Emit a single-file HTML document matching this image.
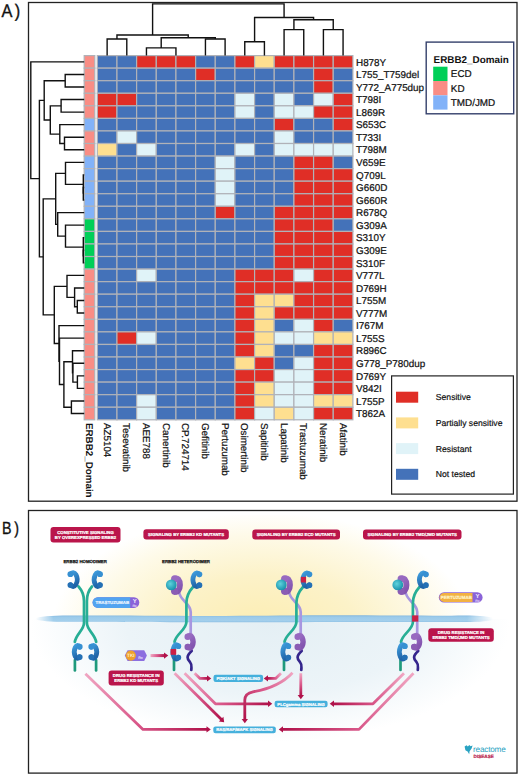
<!DOCTYPE html>
<html><head><meta charset="utf-8"><style>
html,body{margin:0;padding:0;background:#fff;}
svg{display:block;}
text{text-rendering:geometricPrecision;}
</style></head><body>
<svg width="520" height="777" viewBox="0 0 520 777">
<rect width="520" height="777" fill="#fff"/>
<defs><radialGradient id="glow" cx="262" cy="628" r="200" gradientUnits="userSpaceOnUse" gradientTransform="translate(262,628) scale(1.05,0.58) translate(-262,-628)"><stop offset="0" stop-color="#fcedb2"/><stop offset="0.45" stop-color="#fcf2c8"/><stop offset="0.8" stop-color="#fefae8"/><stop offset="1" stop-color="#ffffff"/></radialGradient><radialGradient id="below" cx="270" cy="622" r="200" gradientUnits="userSpaceOnUse" gradientTransform="translate(270,622) scale(1.2,0.6) translate(-270,-622)"><stop offset="0" stop-color="#e4eff4"/><stop offset="0.6" stop-color="#ecf4f8"/><stop offset="1" stop-color="#ffffff"/></radialGradient><linearGradient id="mem" x1="0" y1="0" x2="0" y2="1"><stop offset="0" stop-color="#7fb5de"/><stop offset="0.22" stop-color="#9bcaea"/><stop offset="0.75" stop-color="#a3cfec"/><stop offset="1" stop-color="#8ec0e4"/></linearGradient><linearGradient id="memfade" x1="0" y1="0" x2="1" y2="0"><stop offset="0" stop-color="#fff" stop-opacity="1"/><stop offset="0.05" stop-color="#fff" stop-opacity="0"/><stop offset="0.9" stop-color="#fff" stop-opacity="0"/><stop offset="1" stop-color="#fff" stop-opacity="1"/></linearGradient><radialGradient id="sph" cx="0.4" cy="0.4" r="0.6"><stop offset="0" stop-color="#5fd3dc"/><stop offset="1" stop-color="#1b92ad"/></radialGradient><linearGradient id="mmg" gradientUnits="userSpaceOnUse" x1="30" y1="0" x2="500" y2="0"><stop offset="0" stop-color="#000"/><stop offset="0.012" stop-color="#000"/><stop offset="0.05" stop-color="#fff"/><stop offset="0.93" stop-color="#fff"/><stop offset="0.985" stop-color="#000"/><stop offset="1" stop-color="#000"/></linearGradient><mask id="mm" maskUnits="userSpaceOnUse" x="28" y="600" width="490" height="30"><rect x="28" y="600" width="490" height="30" fill="url(#mmg)"/></mask><linearGradient id="gb" x1="0" y1="0" x2="0.3" y2="1"><stop offset="0" stop-color="#3e9bdb"/><stop offset="1" stop-color="#2064a8"/></linearGradient><linearGradient id="gp" x1="0" y1="0" x2="0.3" y2="1"><stop offset="0" stop-color="#9b6fc4"/><stop offset="1" stop-color="#8455b0"/></linearGradient><linearGradient id="ag1" gradientUnits="userSpaceOnUse" x1="85.4" y1="673.8" x2="207" y2="729.4"><stop offset="0" stop-color="#f0a6c2"/><stop offset="0.5" stop-color="#d9588a"/><stop offset="1" stop-color="#b0124a"/></linearGradient><linearGradient id="ag2" gradientUnits="userSpaceOnUse" x1="174.6" y1="673.2" x2="221.5" y2="719.5"><stop offset="0" stop-color="#f0a6c2"/><stop offset="0.5" stop-color="#d9588a"/><stop offset="1" stop-color="#b0124a"/></linearGradient><linearGradient id="ag3" gradientUnits="userSpaceOnUse" x1="184.6" y1="673.2" x2="268.5" y2="703.8"><stop offset="0" stop-color="#f0a6c2"/><stop offset="0.5" stop-color="#d9588a"/><stop offset="1" stop-color="#b0124a"/></linearGradient><linearGradient id="ag4" gradientUnits="userSpaceOnUse" x1="194.6" y1="673.2" x2="207.5" y2="678.4"><stop offset="0" stop-color="#f0a6c2"/><stop offset="0.5" stop-color="#d9588a"/><stop offset="1" stop-color="#b0124a"/></linearGradient><linearGradient id="ag5" gradientUnits="userSpaceOnUse" x1="150.5" y1="655.6" x2="164.5" y2="655.6"><stop offset="0" stop-color="#f0a6c2"/><stop offset="0.5" stop-color="#d9588a"/><stop offset="1" stop-color="#b0124a"/></linearGradient><linearGradient id="ag6" gradientUnits="userSpaceOnUse" x1="281" y1="673.2" x2="267.5" y2="678.4"><stop offset="0" stop-color="#f0a6c2"/><stop offset="0.5" stop-color="#d9588a"/><stop offset="1" stop-color="#b0124a"/></linearGradient><linearGradient id="ag7" gradientUnits="userSpaceOnUse" x1="292.5" y1="672.8" x2="244.8" y2="719.5"><stop offset="0" stop-color="#f0a6c2"/><stop offset="0.5" stop-color="#d9588a"/><stop offset="1" stop-color="#b0124a"/></linearGradient><linearGradient id="ag8" gradientUnits="userSpaceOnUse" x1="300.8" y1="673.2" x2="300.8" y2="695.5"><stop offset="0" stop-color="#f0a6c2"/><stop offset="0.5" stop-color="#d9588a"/><stop offset="1" stop-color="#b0124a"/></linearGradient><linearGradient id="ag9" gradientUnits="userSpaceOnUse" x1="404" y1="673.2" x2="333.5" y2="703.8"><stop offset="0" stop-color="#f0a6c2"/><stop offset="0.5" stop-color="#d9588a"/><stop offset="1" stop-color="#b0124a"/></linearGradient><linearGradient id="ag10" gradientUnits="userSpaceOnUse" x1="413.5" y1="673.2" x2="282.5" y2="729.4"><stop offset="0" stop-color="#f0a6c2"/><stop offset="0.5" stop-color="#d9588a"/><stop offset="1" stop-color="#b0124a"/></linearGradient></defs>
<rect x="28.5" y="2.5" width="488.5" height="498.7" fill="none" stroke="#222" stroke-width="1.3"/>
<text transform="translate(1.4,17.3) scale(0.9,1)" font-size="18.2" letter-spacing="2.6" font-family='"Liberation Sans", sans-serif' fill="#111" stroke="#111" stroke-width="0.35">A)</text>
<rect x="97.30" y="55.60" width="19.66" height="12.56" fill="#4472B9" stroke="#b0b2b8" stroke-width="1.2"/>
<rect x="116.96" y="55.60" width="19.66" height="12.56" fill="#4472B9" stroke="#b0b2b8" stroke-width="1.2"/>
<rect x="136.62" y="55.60" width="19.66" height="12.56" fill="#E02E26" stroke="#b0b2b8" stroke-width="1.2"/>
<rect x="156.28" y="55.60" width="19.66" height="12.56" fill="#E02E26" stroke="#b0b2b8" stroke-width="1.2"/>
<rect x="175.95" y="55.60" width="19.66" height="12.56" fill="#E02E26" stroke="#b0b2b8" stroke-width="1.2"/>
<rect x="195.61" y="55.60" width="19.66" height="12.56" fill="#4472B9" stroke="#b0b2b8" stroke-width="1.2"/>
<rect x="215.27" y="55.60" width="19.66" height="12.56" fill="#4472B9" stroke="#b0b2b8" stroke-width="1.2"/>
<rect x="234.93" y="55.60" width="19.66" height="12.56" fill="#E02E26" stroke="#b0b2b8" stroke-width="1.2"/>
<rect x="254.59" y="55.60" width="19.66" height="12.56" fill="#FEDF90" stroke="#b0b2b8" stroke-width="1.2"/>
<rect x="274.25" y="55.60" width="19.66" height="12.56" fill="#E02E26" stroke="#b0b2b8" stroke-width="1.2"/>
<rect x="293.92" y="55.60" width="19.66" height="12.56" fill="#E02E26" stroke="#b0b2b8" stroke-width="1.2"/>
<rect x="313.58" y="55.60" width="19.66" height="12.56" fill="#E02E26" stroke="#b0b2b8" stroke-width="1.2"/>
<rect x="333.24" y="55.60" width="19.66" height="12.56" fill="#E02E26" stroke="#b0b2b8" stroke-width="1.2"/>
<rect x="97.30" y="68.16" width="19.66" height="12.56" fill="#4472B9" stroke="#b0b2b8" stroke-width="1.2"/>
<rect x="116.96" y="68.16" width="19.66" height="12.56" fill="#4472B9" stroke="#b0b2b8" stroke-width="1.2"/>
<rect x="136.62" y="68.16" width="19.66" height="12.56" fill="#4472B9" stroke="#b0b2b8" stroke-width="1.2"/>
<rect x="156.28" y="68.16" width="19.66" height="12.56" fill="#4472B9" stroke="#b0b2b8" stroke-width="1.2"/>
<rect x="175.95" y="68.16" width="19.66" height="12.56" fill="#4472B9" stroke="#b0b2b8" stroke-width="1.2"/>
<rect x="195.61" y="68.16" width="19.66" height="12.56" fill="#E02E26" stroke="#b0b2b8" stroke-width="1.2"/>
<rect x="215.27" y="68.16" width="19.66" height="12.56" fill="#4472B9" stroke="#b0b2b8" stroke-width="1.2"/>
<rect x="234.93" y="68.16" width="19.66" height="12.56" fill="#4472B9" stroke="#b0b2b8" stroke-width="1.2"/>
<rect x="254.59" y="68.16" width="19.66" height="12.56" fill="#4472B9" stroke="#b0b2b8" stroke-width="1.2"/>
<rect x="274.25" y="68.16" width="19.66" height="12.56" fill="#4472B9" stroke="#b0b2b8" stroke-width="1.2"/>
<rect x="293.92" y="68.16" width="19.66" height="12.56" fill="#4472B9" stroke="#b0b2b8" stroke-width="1.2"/>
<rect x="313.58" y="68.16" width="19.66" height="12.56" fill="#E02E26" stroke="#b0b2b8" stroke-width="1.2"/>
<rect x="333.24" y="68.16" width="19.66" height="12.56" fill="#4472B9" stroke="#b0b2b8" stroke-width="1.2"/>
<rect x="97.30" y="80.72" width="19.66" height="12.56" fill="#4472B9" stroke="#b0b2b8" stroke-width="1.2"/>
<rect x="116.96" y="80.72" width="19.66" height="12.56" fill="#4472B9" stroke="#b0b2b8" stroke-width="1.2"/>
<rect x="136.62" y="80.72" width="19.66" height="12.56" fill="#4472B9" stroke="#b0b2b8" stroke-width="1.2"/>
<rect x="156.28" y="80.72" width="19.66" height="12.56" fill="#4472B9" stroke="#b0b2b8" stroke-width="1.2"/>
<rect x="175.95" y="80.72" width="19.66" height="12.56" fill="#4472B9" stroke="#b0b2b8" stroke-width="1.2"/>
<rect x="195.61" y="80.72" width="19.66" height="12.56" fill="#4472B9" stroke="#b0b2b8" stroke-width="1.2"/>
<rect x="215.27" y="80.72" width="19.66" height="12.56" fill="#4472B9" stroke="#b0b2b8" stroke-width="1.2"/>
<rect x="234.93" y="80.72" width="19.66" height="12.56" fill="#4472B9" stroke="#b0b2b8" stroke-width="1.2"/>
<rect x="254.59" y="80.72" width="19.66" height="12.56" fill="#4472B9" stroke="#b0b2b8" stroke-width="1.2"/>
<rect x="274.25" y="80.72" width="19.66" height="12.56" fill="#4472B9" stroke="#b0b2b8" stroke-width="1.2"/>
<rect x="293.92" y="80.72" width="19.66" height="12.56" fill="#4472B9" stroke="#b0b2b8" stroke-width="1.2"/>
<rect x="313.58" y="80.72" width="19.66" height="12.56" fill="#E02E26" stroke="#b0b2b8" stroke-width="1.2"/>
<rect x="333.24" y="80.72" width="19.66" height="12.56" fill="#4472B9" stroke="#b0b2b8" stroke-width="1.2"/>
<rect x="97.30" y="93.28" width="19.66" height="12.56" fill="#E02E26" stroke="#b0b2b8" stroke-width="1.2"/>
<rect x="116.96" y="93.28" width="19.66" height="12.56" fill="#E02E26" stroke="#b0b2b8" stroke-width="1.2"/>
<rect x="136.62" y="93.28" width="19.66" height="12.56" fill="#4472B9" stroke="#b0b2b8" stroke-width="1.2"/>
<rect x="156.28" y="93.28" width="19.66" height="12.56" fill="#4472B9" stroke="#b0b2b8" stroke-width="1.2"/>
<rect x="175.95" y="93.28" width="19.66" height="12.56" fill="#4472B9" stroke="#b0b2b8" stroke-width="1.2"/>
<rect x="195.61" y="93.28" width="19.66" height="12.56" fill="#4472B9" stroke="#b0b2b8" stroke-width="1.2"/>
<rect x="215.27" y="93.28" width="19.66" height="12.56" fill="#4472B9" stroke="#b0b2b8" stroke-width="1.2"/>
<rect x="234.93" y="93.28" width="19.66" height="12.56" fill="#E0F3F8" stroke="#b0b2b8" stroke-width="1.2"/>
<rect x="254.59" y="93.28" width="19.66" height="12.56" fill="#4472B9" stroke="#b0b2b8" stroke-width="1.2"/>
<rect x="274.25" y="93.28" width="19.66" height="12.56" fill="#E0F3F8" stroke="#b0b2b8" stroke-width="1.2"/>
<rect x="293.92" y="93.28" width="19.66" height="12.56" fill="#4472B9" stroke="#b0b2b8" stroke-width="1.2"/>
<rect x="313.58" y="93.28" width="19.66" height="12.56" fill="#E0F3F8" stroke="#b0b2b8" stroke-width="1.2"/>
<rect x="333.24" y="93.28" width="19.66" height="12.56" fill="#E02E26" stroke="#b0b2b8" stroke-width="1.2"/>
<rect x="97.30" y="105.83" width="19.66" height="12.56" fill="#E02E26" stroke="#b0b2b8" stroke-width="1.2"/>
<rect x="116.96" y="105.83" width="19.66" height="12.56" fill="#4472B9" stroke="#b0b2b8" stroke-width="1.2"/>
<rect x="136.62" y="105.83" width="19.66" height="12.56" fill="#4472B9" stroke="#b0b2b8" stroke-width="1.2"/>
<rect x="156.28" y="105.83" width="19.66" height="12.56" fill="#4472B9" stroke="#b0b2b8" stroke-width="1.2"/>
<rect x="175.95" y="105.83" width="19.66" height="12.56" fill="#4472B9" stroke="#b0b2b8" stroke-width="1.2"/>
<rect x="195.61" y="105.83" width="19.66" height="12.56" fill="#4472B9" stroke="#b0b2b8" stroke-width="1.2"/>
<rect x="215.27" y="105.83" width="19.66" height="12.56" fill="#4472B9" stroke="#b0b2b8" stroke-width="1.2"/>
<rect x="234.93" y="105.83" width="19.66" height="12.56" fill="#E0F3F8" stroke="#b0b2b8" stroke-width="1.2"/>
<rect x="254.59" y="105.83" width="19.66" height="12.56" fill="#4472B9" stroke="#b0b2b8" stroke-width="1.2"/>
<rect x="274.25" y="105.83" width="19.66" height="12.56" fill="#E0F3F8" stroke="#b0b2b8" stroke-width="1.2"/>
<rect x="293.92" y="105.83" width="19.66" height="12.56" fill="#E0F3F8" stroke="#b0b2b8" stroke-width="1.2"/>
<rect x="313.58" y="105.83" width="19.66" height="12.56" fill="#E02E26" stroke="#b0b2b8" stroke-width="1.2"/>
<rect x="333.24" y="105.83" width="19.66" height="12.56" fill="#E02E26" stroke="#b0b2b8" stroke-width="1.2"/>
<rect x="97.30" y="118.39" width="19.66" height="12.56" fill="#4472B9" stroke="#b0b2b8" stroke-width="1.2"/>
<rect x="116.96" y="118.39" width="19.66" height="12.56" fill="#4472B9" stroke="#b0b2b8" stroke-width="1.2"/>
<rect x="136.62" y="118.39" width="19.66" height="12.56" fill="#4472B9" stroke="#b0b2b8" stroke-width="1.2"/>
<rect x="156.28" y="118.39" width="19.66" height="12.56" fill="#4472B9" stroke="#b0b2b8" stroke-width="1.2"/>
<rect x="175.95" y="118.39" width="19.66" height="12.56" fill="#4472B9" stroke="#b0b2b8" stroke-width="1.2"/>
<rect x="195.61" y="118.39" width="19.66" height="12.56" fill="#4472B9" stroke="#b0b2b8" stroke-width="1.2"/>
<rect x="215.27" y="118.39" width="19.66" height="12.56" fill="#4472B9" stroke="#b0b2b8" stroke-width="1.2"/>
<rect x="234.93" y="118.39" width="19.66" height="12.56" fill="#4472B9" stroke="#b0b2b8" stroke-width="1.2"/>
<rect x="254.59" y="118.39" width="19.66" height="12.56" fill="#4472B9" stroke="#b0b2b8" stroke-width="1.2"/>
<rect x="274.25" y="118.39" width="19.66" height="12.56" fill="#E02E26" stroke="#b0b2b8" stroke-width="1.2"/>
<rect x="293.92" y="118.39" width="19.66" height="12.56" fill="#4472B9" stroke="#b0b2b8" stroke-width="1.2"/>
<rect x="313.58" y="118.39" width="19.66" height="12.56" fill="#4472B9" stroke="#b0b2b8" stroke-width="1.2"/>
<rect x="333.24" y="118.39" width="19.66" height="12.56" fill="#E02E26" stroke="#b0b2b8" stroke-width="1.2"/>
<rect x="97.30" y="130.95" width="19.66" height="12.56" fill="#4472B9" stroke="#b0b2b8" stroke-width="1.2"/>
<rect x="116.96" y="130.95" width="19.66" height="12.56" fill="#E0F3F8" stroke="#b0b2b8" stroke-width="1.2"/>
<rect x="136.62" y="130.95" width="19.66" height="12.56" fill="#4472B9" stroke="#b0b2b8" stroke-width="1.2"/>
<rect x="156.28" y="130.95" width="19.66" height="12.56" fill="#4472B9" stroke="#b0b2b8" stroke-width="1.2"/>
<rect x="175.95" y="130.95" width="19.66" height="12.56" fill="#4472B9" stroke="#b0b2b8" stroke-width="1.2"/>
<rect x="195.61" y="130.95" width="19.66" height="12.56" fill="#4472B9" stroke="#b0b2b8" stroke-width="1.2"/>
<rect x="215.27" y="130.95" width="19.66" height="12.56" fill="#4472B9" stroke="#b0b2b8" stroke-width="1.2"/>
<rect x="234.93" y="130.95" width="19.66" height="12.56" fill="#4472B9" stroke="#b0b2b8" stroke-width="1.2"/>
<rect x="254.59" y="130.95" width="19.66" height="12.56" fill="#4472B9" stroke="#b0b2b8" stroke-width="1.2"/>
<rect x="274.25" y="130.95" width="19.66" height="12.56" fill="#E0F3F8" stroke="#b0b2b8" stroke-width="1.2"/>
<rect x="293.92" y="130.95" width="19.66" height="12.56" fill="#4472B9" stroke="#b0b2b8" stroke-width="1.2"/>
<rect x="313.58" y="130.95" width="19.66" height="12.56" fill="#4472B9" stroke="#b0b2b8" stroke-width="1.2"/>
<rect x="333.24" y="130.95" width="19.66" height="12.56" fill="#4472B9" stroke="#b0b2b8" stroke-width="1.2"/>
<rect x="97.30" y="143.51" width="19.66" height="12.56" fill="#FEDF90" stroke="#b0b2b8" stroke-width="1.2"/>
<rect x="116.96" y="143.51" width="19.66" height="12.56" fill="#4472B9" stroke="#b0b2b8" stroke-width="1.2"/>
<rect x="136.62" y="143.51" width="19.66" height="12.56" fill="#E0F3F8" stroke="#b0b2b8" stroke-width="1.2"/>
<rect x="156.28" y="143.51" width="19.66" height="12.56" fill="#4472B9" stroke="#b0b2b8" stroke-width="1.2"/>
<rect x="175.95" y="143.51" width="19.66" height="12.56" fill="#4472B9" stroke="#b0b2b8" stroke-width="1.2"/>
<rect x="195.61" y="143.51" width="19.66" height="12.56" fill="#4472B9" stroke="#b0b2b8" stroke-width="1.2"/>
<rect x="215.27" y="143.51" width="19.66" height="12.56" fill="#4472B9" stroke="#b0b2b8" stroke-width="1.2"/>
<rect x="234.93" y="143.51" width="19.66" height="12.56" fill="#E0F3F8" stroke="#b0b2b8" stroke-width="1.2"/>
<rect x="254.59" y="143.51" width="19.66" height="12.56" fill="#4472B9" stroke="#b0b2b8" stroke-width="1.2"/>
<rect x="274.25" y="143.51" width="19.66" height="12.56" fill="#E0F3F8" stroke="#b0b2b8" stroke-width="1.2"/>
<rect x="293.92" y="143.51" width="19.66" height="12.56" fill="#E0F3F8" stroke="#b0b2b8" stroke-width="1.2"/>
<rect x="313.58" y="143.51" width="19.66" height="12.56" fill="#E0F3F8" stroke="#b0b2b8" stroke-width="1.2"/>
<rect x="333.24" y="143.51" width="19.66" height="12.56" fill="#E0F3F8" stroke="#b0b2b8" stroke-width="1.2"/>
<rect x="97.30" y="156.07" width="19.66" height="12.56" fill="#4472B9" stroke="#b0b2b8" stroke-width="1.2"/>
<rect x="116.96" y="156.07" width="19.66" height="12.56" fill="#4472B9" stroke="#b0b2b8" stroke-width="1.2"/>
<rect x="136.62" y="156.07" width="19.66" height="12.56" fill="#4472B9" stroke="#b0b2b8" stroke-width="1.2"/>
<rect x="156.28" y="156.07" width="19.66" height="12.56" fill="#4472B9" stroke="#b0b2b8" stroke-width="1.2"/>
<rect x="175.95" y="156.07" width="19.66" height="12.56" fill="#4472B9" stroke="#b0b2b8" stroke-width="1.2"/>
<rect x="195.61" y="156.07" width="19.66" height="12.56" fill="#4472B9" stroke="#b0b2b8" stroke-width="1.2"/>
<rect x="215.27" y="156.07" width="19.66" height="12.56" fill="#E0F3F8" stroke="#b0b2b8" stroke-width="1.2"/>
<rect x="234.93" y="156.07" width="19.66" height="12.56" fill="#4472B9" stroke="#b0b2b8" stroke-width="1.2"/>
<rect x="254.59" y="156.07" width="19.66" height="12.56" fill="#4472B9" stroke="#b0b2b8" stroke-width="1.2"/>
<rect x="274.25" y="156.07" width="19.66" height="12.56" fill="#4472B9" stroke="#b0b2b8" stroke-width="1.2"/>
<rect x="293.92" y="156.07" width="19.66" height="12.56" fill="#E02E26" stroke="#b0b2b8" stroke-width="1.2"/>
<rect x="313.58" y="156.07" width="19.66" height="12.56" fill="#E02E26" stroke="#b0b2b8" stroke-width="1.2"/>
<rect x="333.24" y="156.07" width="19.66" height="12.56" fill="#4472B9" stroke="#b0b2b8" stroke-width="1.2"/>
<rect x="97.30" y="168.63" width="19.66" height="12.56" fill="#4472B9" stroke="#b0b2b8" stroke-width="1.2"/>
<rect x="116.96" y="168.63" width="19.66" height="12.56" fill="#4472B9" stroke="#b0b2b8" stroke-width="1.2"/>
<rect x="136.62" y="168.63" width="19.66" height="12.56" fill="#4472B9" stroke="#b0b2b8" stroke-width="1.2"/>
<rect x="156.28" y="168.63" width="19.66" height="12.56" fill="#4472B9" stroke="#b0b2b8" stroke-width="1.2"/>
<rect x="175.95" y="168.63" width="19.66" height="12.56" fill="#4472B9" stroke="#b0b2b8" stroke-width="1.2"/>
<rect x="195.61" y="168.63" width="19.66" height="12.56" fill="#4472B9" stroke="#b0b2b8" stroke-width="1.2"/>
<rect x="215.27" y="168.63" width="19.66" height="12.56" fill="#E0F3F8" stroke="#b0b2b8" stroke-width="1.2"/>
<rect x="234.93" y="168.63" width="19.66" height="12.56" fill="#4472B9" stroke="#b0b2b8" stroke-width="1.2"/>
<rect x="254.59" y="168.63" width="19.66" height="12.56" fill="#4472B9" stroke="#b0b2b8" stroke-width="1.2"/>
<rect x="274.25" y="168.63" width="19.66" height="12.56" fill="#4472B9" stroke="#b0b2b8" stroke-width="1.2"/>
<rect x="293.92" y="168.63" width="19.66" height="12.56" fill="#E02E26" stroke="#b0b2b8" stroke-width="1.2"/>
<rect x="313.58" y="168.63" width="19.66" height="12.56" fill="#E02E26" stroke="#b0b2b8" stroke-width="1.2"/>
<rect x="333.24" y="168.63" width="19.66" height="12.56" fill="#E02E26" stroke="#b0b2b8" stroke-width="1.2"/>
<rect x="97.30" y="181.19" width="19.66" height="12.56" fill="#4472B9" stroke="#b0b2b8" stroke-width="1.2"/>
<rect x="116.96" y="181.19" width="19.66" height="12.56" fill="#4472B9" stroke="#b0b2b8" stroke-width="1.2"/>
<rect x="136.62" y="181.19" width="19.66" height="12.56" fill="#4472B9" stroke="#b0b2b8" stroke-width="1.2"/>
<rect x="156.28" y="181.19" width="19.66" height="12.56" fill="#4472B9" stroke="#b0b2b8" stroke-width="1.2"/>
<rect x="175.95" y="181.19" width="19.66" height="12.56" fill="#4472B9" stroke="#b0b2b8" stroke-width="1.2"/>
<rect x="195.61" y="181.19" width="19.66" height="12.56" fill="#4472B9" stroke="#b0b2b8" stroke-width="1.2"/>
<rect x="215.27" y="181.19" width="19.66" height="12.56" fill="#E0F3F8" stroke="#b0b2b8" stroke-width="1.2"/>
<rect x="234.93" y="181.19" width="19.66" height="12.56" fill="#4472B9" stroke="#b0b2b8" stroke-width="1.2"/>
<rect x="254.59" y="181.19" width="19.66" height="12.56" fill="#4472B9" stroke="#b0b2b8" stroke-width="1.2"/>
<rect x="274.25" y="181.19" width="19.66" height="12.56" fill="#4472B9" stroke="#b0b2b8" stroke-width="1.2"/>
<rect x="293.92" y="181.19" width="19.66" height="12.56" fill="#E02E26" stroke="#b0b2b8" stroke-width="1.2"/>
<rect x="313.58" y="181.19" width="19.66" height="12.56" fill="#E02E26" stroke="#b0b2b8" stroke-width="1.2"/>
<rect x="333.24" y="181.19" width="19.66" height="12.56" fill="#E02E26" stroke="#b0b2b8" stroke-width="1.2"/>
<rect x="97.30" y="193.74" width="19.66" height="12.56" fill="#4472B9" stroke="#b0b2b8" stroke-width="1.2"/>
<rect x="116.96" y="193.74" width="19.66" height="12.56" fill="#4472B9" stroke="#b0b2b8" stroke-width="1.2"/>
<rect x="136.62" y="193.74" width="19.66" height="12.56" fill="#4472B9" stroke="#b0b2b8" stroke-width="1.2"/>
<rect x="156.28" y="193.74" width="19.66" height="12.56" fill="#4472B9" stroke="#b0b2b8" stroke-width="1.2"/>
<rect x="175.95" y="193.74" width="19.66" height="12.56" fill="#4472B9" stroke="#b0b2b8" stroke-width="1.2"/>
<rect x="195.61" y="193.74" width="19.66" height="12.56" fill="#4472B9" stroke="#b0b2b8" stroke-width="1.2"/>
<rect x="215.27" y="193.74" width="19.66" height="12.56" fill="#E0F3F8" stroke="#b0b2b8" stroke-width="1.2"/>
<rect x="234.93" y="193.74" width="19.66" height="12.56" fill="#4472B9" stroke="#b0b2b8" stroke-width="1.2"/>
<rect x="254.59" y="193.74" width="19.66" height="12.56" fill="#4472B9" stroke="#b0b2b8" stroke-width="1.2"/>
<rect x="274.25" y="193.74" width="19.66" height="12.56" fill="#4472B9" stroke="#b0b2b8" stroke-width="1.2"/>
<rect x="293.92" y="193.74" width="19.66" height="12.56" fill="#E02E26" stroke="#b0b2b8" stroke-width="1.2"/>
<rect x="313.58" y="193.74" width="19.66" height="12.56" fill="#E02E26" stroke="#b0b2b8" stroke-width="1.2"/>
<rect x="333.24" y="193.74" width="19.66" height="12.56" fill="#E02E26" stroke="#b0b2b8" stroke-width="1.2"/>
<rect x="97.30" y="206.30" width="19.66" height="12.56" fill="#4472B9" stroke="#b0b2b8" stroke-width="1.2"/>
<rect x="116.96" y="206.30" width="19.66" height="12.56" fill="#4472B9" stroke="#b0b2b8" stroke-width="1.2"/>
<rect x="136.62" y="206.30" width="19.66" height="12.56" fill="#4472B9" stroke="#b0b2b8" stroke-width="1.2"/>
<rect x="156.28" y="206.30" width="19.66" height="12.56" fill="#4472B9" stroke="#b0b2b8" stroke-width="1.2"/>
<rect x="175.95" y="206.30" width="19.66" height="12.56" fill="#4472B9" stroke="#b0b2b8" stroke-width="1.2"/>
<rect x="195.61" y="206.30" width="19.66" height="12.56" fill="#4472B9" stroke="#b0b2b8" stroke-width="1.2"/>
<rect x="215.27" y="206.30" width="19.66" height="12.56" fill="#E02E26" stroke="#b0b2b8" stroke-width="1.2"/>
<rect x="234.93" y="206.30" width="19.66" height="12.56" fill="#4472B9" stroke="#b0b2b8" stroke-width="1.2"/>
<rect x="254.59" y="206.30" width="19.66" height="12.56" fill="#4472B9" stroke="#b0b2b8" stroke-width="1.2"/>
<rect x="274.25" y="206.30" width="19.66" height="12.56" fill="#E02E26" stroke="#b0b2b8" stroke-width="1.2"/>
<rect x="293.92" y="206.30" width="19.66" height="12.56" fill="#E02E26" stroke="#b0b2b8" stroke-width="1.2"/>
<rect x="313.58" y="206.30" width="19.66" height="12.56" fill="#E02E26" stroke="#b0b2b8" stroke-width="1.2"/>
<rect x="333.24" y="206.30" width="19.66" height="12.56" fill="#E02E26" stroke="#b0b2b8" stroke-width="1.2"/>
<rect x="97.30" y="218.86" width="19.66" height="12.56" fill="#4472B9" stroke="#b0b2b8" stroke-width="1.2"/>
<rect x="116.96" y="218.86" width="19.66" height="12.56" fill="#4472B9" stroke="#b0b2b8" stroke-width="1.2"/>
<rect x="136.62" y="218.86" width="19.66" height="12.56" fill="#4472B9" stroke="#b0b2b8" stroke-width="1.2"/>
<rect x="156.28" y="218.86" width="19.66" height="12.56" fill="#4472B9" stroke="#b0b2b8" stroke-width="1.2"/>
<rect x="175.95" y="218.86" width="19.66" height="12.56" fill="#4472B9" stroke="#b0b2b8" stroke-width="1.2"/>
<rect x="195.61" y="218.86" width="19.66" height="12.56" fill="#4472B9" stroke="#b0b2b8" stroke-width="1.2"/>
<rect x="215.27" y="218.86" width="19.66" height="12.56" fill="#4472B9" stroke="#b0b2b8" stroke-width="1.2"/>
<rect x="234.93" y="218.86" width="19.66" height="12.56" fill="#4472B9" stroke="#b0b2b8" stroke-width="1.2"/>
<rect x="254.59" y="218.86" width="19.66" height="12.56" fill="#4472B9" stroke="#b0b2b8" stroke-width="1.2"/>
<rect x="274.25" y="218.86" width="19.66" height="12.56" fill="#E02E26" stroke="#b0b2b8" stroke-width="1.2"/>
<rect x="293.92" y="218.86" width="19.66" height="12.56" fill="#E02E26" stroke="#b0b2b8" stroke-width="1.2"/>
<rect x="313.58" y="218.86" width="19.66" height="12.56" fill="#E02E26" stroke="#b0b2b8" stroke-width="1.2"/>
<rect x="333.24" y="218.86" width="19.66" height="12.56" fill="#4472B9" stroke="#b0b2b8" stroke-width="1.2"/>
<rect x="97.30" y="231.42" width="19.66" height="12.56" fill="#4472B9" stroke="#b0b2b8" stroke-width="1.2"/>
<rect x="116.96" y="231.42" width="19.66" height="12.56" fill="#4472B9" stroke="#b0b2b8" stroke-width="1.2"/>
<rect x="136.62" y="231.42" width="19.66" height="12.56" fill="#4472B9" stroke="#b0b2b8" stroke-width="1.2"/>
<rect x="156.28" y="231.42" width="19.66" height="12.56" fill="#4472B9" stroke="#b0b2b8" stroke-width="1.2"/>
<rect x="175.95" y="231.42" width="19.66" height="12.56" fill="#4472B9" stroke="#b0b2b8" stroke-width="1.2"/>
<rect x="195.61" y="231.42" width="19.66" height="12.56" fill="#4472B9" stroke="#b0b2b8" stroke-width="1.2"/>
<rect x="215.27" y="231.42" width="19.66" height="12.56" fill="#4472B9" stroke="#b0b2b8" stroke-width="1.2"/>
<rect x="234.93" y="231.42" width="19.66" height="12.56" fill="#4472B9" stroke="#b0b2b8" stroke-width="1.2"/>
<rect x="254.59" y="231.42" width="19.66" height="12.56" fill="#4472B9" stroke="#b0b2b8" stroke-width="1.2"/>
<rect x="274.25" y="231.42" width="19.66" height="12.56" fill="#E02E26" stroke="#b0b2b8" stroke-width="1.2"/>
<rect x="293.92" y="231.42" width="19.66" height="12.56" fill="#E02E26" stroke="#b0b2b8" stroke-width="1.2"/>
<rect x="313.58" y="231.42" width="19.66" height="12.56" fill="#E02E26" stroke="#b0b2b8" stroke-width="1.2"/>
<rect x="333.24" y="231.42" width="19.66" height="12.56" fill="#E02E26" stroke="#b0b2b8" stroke-width="1.2"/>
<rect x="97.30" y="243.98" width="19.66" height="12.56" fill="#4472B9" stroke="#b0b2b8" stroke-width="1.2"/>
<rect x="116.96" y="243.98" width="19.66" height="12.56" fill="#4472B9" stroke="#b0b2b8" stroke-width="1.2"/>
<rect x="136.62" y="243.98" width="19.66" height="12.56" fill="#4472B9" stroke="#b0b2b8" stroke-width="1.2"/>
<rect x="156.28" y="243.98" width="19.66" height="12.56" fill="#4472B9" stroke="#b0b2b8" stroke-width="1.2"/>
<rect x="175.95" y="243.98" width="19.66" height="12.56" fill="#4472B9" stroke="#b0b2b8" stroke-width="1.2"/>
<rect x="195.61" y="243.98" width="19.66" height="12.56" fill="#4472B9" stroke="#b0b2b8" stroke-width="1.2"/>
<rect x="215.27" y="243.98" width="19.66" height="12.56" fill="#4472B9" stroke="#b0b2b8" stroke-width="1.2"/>
<rect x="234.93" y="243.98" width="19.66" height="12.56" fill="#4472B9" stroke="#b0b2b8" stroke-width="1.2"/>
<rect x="254.59" y="243.98" width="19.66" height="12.56" fill="#4472B9" stroke="#b0b2b8" stroke-width="1.2"/>
<rect x="274.25" y="243.98" width="19.66" height="12.56" fill="#E02E26" stroke="#b0b2b8" stroke-width="1.2"/>
<rect x="293.92" y="243.98" width="19.66" height="12.56" fill="#E02E26" stroke="#b0b2b8" stroke-width="1.2"/>
<rect x="313.58" y="243.98" width="19.66" height="12.56" fill="#E02E26" stroke="#b0b2b8" stroke-width="1.2"/>
<rect x="333.24" y="243.98" width="19.66" height="12.56" fill="#E02E26" stroke="#b0b2b8" stroke-width="1.2"/>
<rect x="97.30" y="256.54" width="19.66" height="12.56" fill="#4472B9" stroke="#b0b2b8" stroke-width="1.2"/>
<rect x="116.96" y="256.54" width="19.66" height="12.56" fill="#4472B9" stroke="#b0b2b8" stroke-width="1.2"/>
<rect x="136.62" y="256.54" width="19.66" height="12.56" fill="#4472B9" stroke="#b0b2b8" stroke-width="1.2"/>
<rect x="156.28" y="256.54" width="19.66" height="12.56" fill="#4472B9" stroke="#b0b2b8" stroke-width="1.2"/>
<rect x="175.95" y="256.54" width="19.66" height="12.56" fill="#4472B9" stroke="#b0b2b8" stroke-width="1.2"/>
<rect x="195.61" y="256.54" width="19.66" height="12.56" fill="#4472B9" stroke="#b0b2b8" stroke-width="1.2"/>
<rect x="215.27" y="256.54" width="19.66" height="12.56" fill="#4472B9" stroke="#b0b2b8" stroke-width="1.2"/>
<rect x="234.93" y="256.54" width="19.66" height="12.56" fill="#4472B9" stroke="#b0b2b8" stroke-width="1.2"/>
<rect x="254.59" y="256.54" width="19.66" height="12.56" fill="#4472B9" stroke="#b0b2b8" stroke-width="1.2"/>
<rect x="274.25" y="256.54" width="19.66" height="12.56" fill="#E02E26" stroke="#b0b2b8" stroke-width="1.2"/>
<rect x="293.92" y="256.54" width="19.66" height="12.56" fill="#E02E26" stroke="#b0b2b8" stroke-width="1.2"/>
<rect x="313.58" y="256.54" width="19.66" height="12.56" fill="#E02E26" stroke="#b0b2b8" stroke-width="1.2"/>
<rect x="333.24" y="256.54" width="19.66" height="12.56" fill="#E02E26" stroke="#b0b2b8" stroke-width="1.2"/>
<rect x="97.30" y="269.10" width="19.66" height="12.56" fill="#4472B9" stroke="#b0b2b8" stroke-width="1.2"/>
<rect x="116.96" y="269.10" width="19.66" height="12.56" fill="#4472B9" stroke="#b0b2b8" stroke-width="1.2"/>
<rect x="136.62" y="269.10" width="19.66" height="12.56" fill="#E0F3F8" stroke="#b0b2b8" stroke-width="1.2"/>
<rect x="156.28" y="269.10" width="19.66" height="12.56" fill="#4472B9" stroke="#b0b2b8" stroke-width="1.2"/>
<rect x="175.95" y="269.10" width="19.66" height="12.56" fill="#4472B9" stroke="#b0b2b8" stroke-width="1.2"/>
<rect x="195.61" y="269.10" width="19.66" height="12.56" fill="#4472B9" stroke="#b0b2b8" stroke-width="1.2"/>
<rect x="215.27" y="269.10" width="19.66" height="12.56" fill="#4472B9" stroke="#b0b2b8" stroke-width="1.2"/>
<rect x="234.93" y="269.10" width="19.66" height="12.56" fill="#E02E26" stroke="#b0b2b8" stroke-width="1.2"/>
<rect x="254.59" y="269.10" width="19.66" height="12.56" fill="#E02E26" stroke="#b0b2b8" stroke-width="1.2"/>
<rect x="274.25" y="269.10" width="19.66" height="12.56" fill="#E02E26" stroke="#b0b2b8" stroke-width="1.2"/>
<rect x="293.92" y="269.10" width="19.66" height="12.56" fill="#E0F3F8" stroke="#b0b2b8" stroke-width="1.2"/>
<rect x="313.58" y="269.10" width="19.66" height="12.56" fill="#E02E26" stroke="#b0b2b8" stroke-width="1.2"/>
<rect x="333.24" y="269.10" width="19.66" height="12.56" fill="#E02E26" stroke="#b0b2b8" stroke-width="1.2"/>
<rect x="97.30" y="281.66" width="19.66" height="12.56" fill="#4472B9" stroke="#b0b2b8" stroke-width="1.2"/>
<rect x="116.96" y="281.66" width="19.66" height="12.56" fill="#4472B9" stroke="#b0b2b8" stroke-width="1.2"/>
<rect x="136.62" y="281.66" width="19.66" height="12.56" fill="#4472B9" stroke="#b0b2b8" stroke-width="1.2"/>
<rect x="156.28" y="281.66" width="19.66" height="12.56" fill="#4472B9" stroke="#b0b2b8" stroke-width="1.2"/>
<rect x="175.95" y="281.66" width="19.66" height="12.56" fill="#4472B9" stroke="#b0b2b8" stroke-width="1.2"/>
<rect x="195.61" y="281.66" width="19.66" height="12.56" fill="#4472B9" stroke="#b0b2b8" stroke-width="1.2"/>
<rect x="215.27" y="281.66" width="19.66" height="12.56" fill="#4472B9" stroke="#b0b2b8" stroke-width="1.2"/>
<rect x="234.93" y="281.66" width="19.66" height="12.56" fill="#E02E26" stroke="#b0b2b8" stroke-width="1.2"/>
<rect x="254.59" y="281.66" width="19.66" height="12.56" fill="#E02E26" stroke="#b0b2b8" stroke-width="1.2"/>
<rect x="274.25" y="281.66" width="19.66" height="12.56" fill="#E02E26" stroke="#b0b2b8" stroke-width="1.2"/>
<rect x="293.92" y="281.66" width="19.66" height="12.56" fill="#E02E26" stroke="#b0b2b8" stroke-width="1.2"/>
<rect x="313.58" y="281.66" width="19.66" height="12.56" fill="#E02E26" stroke="#b0b2b8" stroke-width="1.2"/>
<rect x="333.24" y="281.66" width="19.66" height="12.56" fill="#E02E26" stroke="#b0b2b8" stroke-width="1.2"/>
<rect x="97.30" y="294.21" width="19.66" height="12.56" fill="#4472B9" stroke="#b0b2b8" stroke-width="1.2"/>
<rect x="116.96" y="294.21" width="19.66" height="12.56" fill="#4472B9" stroke="#b0b2b8" stroke-width="1.2"/>
<rect x="136.62" y="294.21" width="19.66" height="12.56" fill="#4472B9" stroke="#b0b2b8" stroke-width="1.2"/>
<rect x="156.28" y="294.21" width="19.66" height="12.56" fill="#4472B9" stroke="#b0b2b8" stroke-width="1.2"/>
<rect x="175.95" y="294.21" width="19.66" height="12.56" fill="#4472B9" stroke="#b0b2b8" stroke-width="1.2"/>
<rect x="195.61" y="294.21" width="19.66" height="12.56" fill="#4472B9" stroke="#b0b2b8" stroke-width="1.2"/>
<rect x="215.27" y="294.21" width="19.66" height="12.56" fill="#4472B9" stroke="#b0b2b8" stroke-width="1.2"/>
<rect x="234.93" y="294.21" width="19.66" height="12.56" fill="#E02E26" stroke="#b0b2b8" stroke-width="1.2"/>
<rect x="254.59" y="294.21" width="19.66" height="12.56" fill="#FEDF90" stroke="#b0b2b8" stroke-width="1.2"/>
<rect x="274.25" y="294.21" width="19.66" height="12.56" fill="#FEDF90" stroke="#b0b2b8" stroke-width="1.2"/>
<rect x="293.92" y="294.21" width="19.66" height="12.56" fill="#E02E26" stroke="#b0b2b8" stroke-width="1.2"/>
<rect x="313.58" y="294.21" width="19.66" height="12.56" fill="#E02E26" stroke="#b0b2b8" stroke-width="1.2"/>
<rect x="333.24" y="294.21" width="19.66" height="12.56" fill="#E02E26" stroke="#b0b2b8" stroke-width="1.2"/>
<rect x="97.30" y="306.77" width="19.66" height="12.56" fill="#4472B9" stroke="#b0b2b8" stroke-width="1.2"/>
<rect x="116.96" y="306.77" width="19.66" height="12.56" fill="#4472B9" stroke="#b0b2b8" stroke-width="1.2"/>
<rect x="136.62" y="306.77" width="19.66" height="12.56" fill="#4472B9" stroke="#b0b2b8" stroke-width="1.2"/>
<rect x="156.28" y="306.77" width="19.66" height="12.56" fill="#4472B9" stroke="#b0b2b8" stroke-width="1.2"/>
<rect x="175.95" y="306.77" width="19.66" height="12.56" fill="#4472B9" stroke="#b0b2b8" stroke-width="1.2"/>
<rect x="195.61" y="306.77" width="19.66" height="12.56" fill="#4472B9" stroke="#b0b2b8" stroke-width="1.2"/>
<rect x="215.27" y="306.77" width="19.66" height="12.56" fill="#4472B9" stroke="#b0b2b8" stroke-width="1.2"/>
<rect x="234.93" y="306.77" width="19.66" height="12.56" fill="#E02E26" stroke="#b0b2b8" stroke-width="1.2"/>
<rect x="254.59" y="306.77" width="19.66" height="12.56" fill="#FEDF90" stroke="#b0b2b8" stroke-width="1.2"/>
<rect x="274.25" y="306.77" width="19.66" height="12.56" fill="#E02E26" stroke="#b0b2b8" stroke-width="1.2"/>
<rect x="293.92" y="306.77" width="19.66" height="12.56" fill="#E02E26" stroke="#b0b2b8" stroke-width="1.2"/>
<rect x="313.58" y="306.77" width="19.66" height="12.56" fill="#E02E26" stroke="#b0b2b8" stroke-width="1.2"/>
<rect x="333.24" y="306.77" width="19.66" height="12.56" fill="#E02E26" stroke="#b0b2b8" stroke-width="1.2"/>
<rect x="97.30" y="319.33" width="19.66" height="12.56" fill="#4472B9" stroke="#b0b2b8" stroke-width="1.2"/>
<rect x="116.96" y="319.33" width="19.66" height="12.56" fill="#4472B9" stroke="#b0b2b8" stroke-width="1.2"/>
<rect x="136.62" y="319.33" width="19.66" height="12.56" fill="#4472B9" stroke="#b0b2b8" stroke-width="1.2"/>
<rect x="156.28" y="319.33" width="19.66" height="12.56" fill="#4472B9" stroke="#b0b2b8" stroke-width="1.2"/>
<rect x="175.95" y="319.33" width="19.66" height="12.56" fill="#4472B9" stroke="#b0b2b8" stroke-width="1.2"/>
<rect x="195.61" y="319.33" width="19.66" height="12.56" fill="#4472B9" stroke="#b0b2b8" stroke-width="1.2"/>
<rect x="215.27" y="319.33" width="19.66" height="12.56" fill="#4472B9" stroke="#b0b2b8" stroke-width="1.2"/>
<rect x="234.93" y="319.33" width="19.66" height="12.56" fill="#E02E26" stroke="#b0b2b8" stroke-width="1.2"/>
<rect x="254.59" y="319.33" width="19.66" height="12.56" fill="#FEDF90" stroke="#b0b2b8" stroke-width="1.2"/>
<rect x="274.25" y="319.33" width="19.66" height="12.56" fill="#4472B9" stroke="#b0b2b8" stroke-width="1.2"/>
<rect x="293.92" y="319.33" width="19.66" height="12.56" fill="#E0F3F8" stroke="#b0b2b8" stroke-width="1.2"/>
<rect x="313.58" y="319.33" width="19.66" height="12.56" fill="#E02E26" stroke="#b0b2b8" stroke-width="1.2"/>
<rect x="333.24" y="319.33" width="19.66" height="12.56" fill="#4472B9" stroke="#b0b2b8" stroke-width="1.2"/>
<rect x="97.30" y="331.89" width="19.66" height="12.56" fill="#4472B9" stroke="#b0b2b8" stroke-width="1.2"/>
<rect x="116.96" y="331.89" width="19.66" height="12.56" fill="#E02E26" stroke="#b0b2b8" stroke-width="1.2"/>
<rect x="136.62" y="331.89" width="19.66" height="12.56" fill="#E0F3F8" stroke="#b0b2b8" stroke-width="1.2"/>
<rect x="156.28" y="331.89" width="19.66" height="12.56" fill="#4472B9" stroke="#b0b2b8" stroke-width="1.2"/>
<rect x="175.95" y="331.89" width="19.66" height="12.56" fill="#4472B9" stroke="#b0b2b8" stroke-width="1.2"/>
<rect x="195.61" y="331.89" width="19.66" height="12.56" fill="#4472B9" stroke="#b0b2b8" stroke-width="1.2"/>
<rect x="215.27" y="331.89" width="19.66" height="12.56" fill="#4472B9" stroke="#b0b2b8" stroke-width="1.2"/>
<rect x="234.93" y="331.89" width="19.66" height="12.56" fill="#E02E26" stroke="#b0b2b8" stroke-width="1.2"/>
<rect x="254.59" y="331.89" width="19.66" height="12.56" fill="#FEDF90" stroke="#b0b2b8" stroke-width="1.2"/>
<rect x="274.25" y="331.89" width="19.66" height="12.56" fill="#E0F3F8" stroke="#b0b2b8" stroke-width="1.2"/>
<rect x="293.92" y="331.89" width="19.66" height="12.56" fill="#E0F3F8" stroke="#b0b2b8" stroke-width="1.2"/>
<rect x="313.58" y="331.89" width="19.66" height="12.56" fill="#FEDF90" stroke="#b0b2b8" stroke-width="1.2"/>
<rect x="333.24" y="331.89" width="19.66" height="12.56" fill="#FEDF90" stroke="#b0b2b8" stroke-width="1.2"/>
<rect x="97.30" y="344.45" width="19.66" height="12.56" fill="#4472B9" stroke="#b0b2b8" stroke-width="1.2"/>
<rect x="116.96" y="344.45" width="19.66" height="12.56" fill="#4472B9" stroke="#b0b2b8" stroke-width="1.2"/>
<rect x="136.62" y="344.45" width="19.66" height="12.56" fill="#4472B9" stroke="#b0b2b8" stroke-width="1.2"/>
<rect x="156.28" y="344.45" width="19.66" height="12.56" fill="#4472B9" stroke="#b0b2b8" stroke-width="1.2"/>
<rect x="175.95" y="344.45" width="19.66" height="12.56" fill="#4472B9" stroke="#b0b2b8" stroke-width="1.2"/>
<rect x="195.61" y="344.45" width="19.66" height="12.56" fill="#4472B9" stroke="#b0b2b8" stroke-width="1.2"/>
<rect x="215.27" y="344.45" width="19.66" height="12.56" fill="#4472B9" stroke="#b0b2b8" stroke-width="1.2"/>
<rect x="234.93" y="344.45" width="19.66" height="12.56" fill="#E02E26" stroke="#b0b2b8" stroke-width="1.2"/>
<rect x="254.59" y="344.45" width="19.66" height="12.56" fill="#FEDF90" stroke="#b0b2b8" stroke-width="1.2"/>
<rect x="274.25" y="344.45" width="19.66" height="12.56" fill="#4472B9" stroke="#b0b2b8" stroke-width="1.2"/>
<rect x="293.92" y="344.45" width="19.66" height="12.56" fill="#4472B9" stroke="#b0b2b8" stroke-width="1.2"/>
<rect x="313.58" y="344.45" width="19.66" height="12.56" fill="#E02E26" stroke="#b0b2b8" stroke-width="1.2"/>
<rect x="333.24" y="344.45" width="19.66" height="12.56" fill="#E02E26" stroke="#b0b2b8" stroke-width="1.2"/>
<rect x="97.30" y="357.01" width="19.66" height="12.56" fill="#4472B9" stroke="#b0b2b8" stroke-width="1.2"/>
<rect x="116.96" y="357.01" width="19.66" height="12.56" fill="#4472B9" stroke="#b0b2b8" stroke-width="1.2"/>
<rect x="136.62" y="357.01" width="19.66" height="12.56" fill="#4472B9" stroke="#b0b2b8" stroke-width="1.2"/>
<rect x="156.28" y="357.01" width="19.66" height="12.56" fill="#4472B9" stroke="#b0b2b8" stroke-width="1.2"/>
<rect x="175.95" y="357.01" width="19.66" height="12.56" fill="#4472B9" stroke="#b0b2b8" stroke-width="1.2"/>
<rect x="195.61" y="357.01" width="19.66" height="12.56" fill="#4472B9" stroke="#b0b2b8" stroke-width="1.2"/>
<rect x="215.27" y="357.01" width="19.66" height="12.56" fill="#4472B9" stroke="#b0b2b8" stroke-width="1.2"/>
<rect x="234.93" y="357.01" width="19.66" height="12.56" fill="#FEDF90" stroke="#b0b2b8" stroke-width="1.2"/>
<rect x="254.59" y="357.01" width="19.66" height="12.56" fill="#E02E26" stroke="#b0b2b8" stroke-width="1.2"/>
<rect x="274.25" y="357.01" width="19.66" height="12.56" fill="#4472B9" stroke="#b0b2b8" stroke-width="1.2"/>
<rect x="293.92" y="357.01" width="19.66" height="12.56" fill="#E0F3F8" stroke="#b0b2b8" stroke-width="1.2"/>
<rect x="313.58" y="357.01" width="19.66" height="12.56" fill="#E02E26" stroke="#b0b2b8" stroke-width="1.2"/>
<rect x="333.24" y="357.01" width="19.66" height="12.56" fill="#E02E26" stroke="#b0b2b8" stroke-width="1.2"/>
<rect x="97.30" y="369.57" width="19.66" height="12.56" fill="#4472B9" stroke="#b0b2b8" stroke-width="1.2"/>
<rect x="116.96" y="369.57" width="19.66" height="12.56" fill="#4472B9" stroke="#b0b2b8" stroke-width="1.2"/>
<rect x="136.62" y="369.57" width="19.66" height="12.56" fill="#4472B9" stroke="#b0b2b8" stroke-width="1.2"/>
<rect x="156.28" y="369.57" width="19.66" height="12.56" fill="#4472B9" stroke="#b0b2b8" stroke-width="1.2"/>
<rect x="175.95" y="369.57" width="19.66" height="12.56" fill="#4472B9" stroke="#b0b2b8" stroke-width="1.2"/>
<rect x="195.61" y="369.57" width="19.66" height="12.56" fill="#4472B9" stroke="#b0b2b8" stroke-width="1.2"/>
<rect x="215.27" y="369.57" width="19.66" height="12.56" fill="#4472B9" stroke="#b0b2b8" stroke-width="1.2"/>
<rect x="234.93" y="369.57" width="19.66" height="12.56" fill="#E02E26" stroke="#b0b2b8" stroke-width="1.2"/>
<rect x="254.59" y="369.57" width="19.66" height="12.56" fill="#E02E26" stroke="#b0b2b8" stroke-width="1.2"/>
<rect x="274.25" y="369.57" width="19.66" height="12.56" fill="#E0F3F8" stroke="#b0b2b8" stroke-width="1.2"/>
<rect x="293.92" y="369.57" width="19.66" height="12.56" fill="#E0F3F8" stroke="#b0b2b8" stroke-width="1.2"/>
<rect x="313.58" y="369.57" width="19.66" height="12.56" fill="#E02E26" stroke="#b0b2b8" stroke-width="1.2"/>
<rect x="333.24" y="369.57" width="19.66" height="12.56" fill="#E02E26" stroke="#b0b2b8" stroke-width="1.2"/>
<rect x="97.30" y="382.12" width="19.66" height="12.56" fill="#4472B9" stroke="#b0b2b8" stroke-width="1.2"/>
<rect x="116.96" y="382.12" width="19.66" height="12.56" fill="#4472B9" stroke="#b0b2b8" stroke-width="1.2"/>
<rect x="136.62" y="382.12" width="19.66" height="12.56" fill="#4472B9" stroke="#b0b2b8" stroke-width="1.2"/>
<rect x="156.28" y="382.12" width="19.66" height="12.56" fill="#4472B9" stroke="#b0b2b8" stroke-width="1.2"/>
<rect x="175.95" y="382.12" width="19.66" height="12.56" fill="#4472B9" stroke="#b0b2b8" stroke-width="1.2"/>
<rect x="195.61" y="382.12" width="19.66" height="12.56" fill="#4472B9" stroke="#b0b2b8" stroke-width="1.2"/>
<rect x="215.27" y="382.12" width="19.66" height="12.56" fill="#4472B9" stroke="#b0b2b8" stroke-width="1.2"/>
<rect x="234.93" y="382.12" width="19.66" height="12.56" fill="#E02E26" stroke="#b0b2b8" stroke-width="1.2"/>
<rect x="254.59" y="382.12" width="19.66" height="12.56" fill="#FEDF90" stroke="#b0b2b8" stroke-width="1.2"/>
<rect x="274.25" y="382.12" width="19.66" height="12.56" fill="#E0F3F8" stroke="#b0b2b8" stroke-width="1.2"/>
<rect x="293.92" y="382.12" width="19.66" height="12.56" fill="#E0F3F8" stroke="#b0b2b8" stroke-width="1.2"/>
<rect x="313.58" y="382.12" width="19.66" height="12.56" fill="#E02E26" stroke="#b0b2b8" stroke-width="1.2"/>
<rect x="333.24" y="382.12" width="19.66" height="12.56" fill="#E02E26" stroke="#b0b2b8" stroke-width="1.2"/>
<rect x="97.30" y="394.68" width="19.66" height="12.56" fill="#4472B9" stroke="#b0b2b8" stroke-width="1.2"/>
<rect x="116.96" y="394.68" width="19.66" height="12.56" fill="#4472B9" stroke="#b0b2b8" stroke-width="1.2"/>
<rect x="136.62" y="394.68" width="19.66" height="12.56" fill="#E0F3F8" stroke="#b0b2b8" stroke-width="1.2"/>
<rect x="156.28" y="394.68" width="19.66" height="12.56" fill="#4472B9" stroke="#b0b2b8" stroke-width="1.2"/>
<rect x="175.95" y="394.68" width="19.66" height="12.56" fill="#4472B9" stroke="#b0b2b8" stroke-width="1.2"/>
<rect x="195.61" y="394.68" width="19.66" height="12.56" fill="#4472B9" stroke="#b0b2b8" stroke-width="1.2"/>
<rect x="215.27" y="394.68" width="19.66" height="12.56" fill="#4472B9" stroke="#b0b2b8" stroke-width="1.2"/>
<rect x="234.93" y="394.68" width="19.66" height="12.56" fill="#E02E26" stroke="#b0b2b8" stroke-width="1.2"/>
<rect x="254.59" y="394.68" width="19.66" height="12.56" fill="#FEDF90" stroke="#b0b2b8" stroke-width="1.2"/>
<rect x="274.25" y="394.68" width="19.66" height="12.56" fill="#E0F3F8" stroke="#b0b2b8" stroke-width="1.2"/>
<rect x="293.92" y="394.68" width="19.66" height="12.56" fill="#E0F3F8" stroke="#b0b2b8" stroke-width="1.2"/>
<rect x="313.58" y="394.68" width="19.66" height="12.56" fill="#FEDF90" stroke="#b0b2b8" stroke-width="1.2"/>
<rect x="333.24" y="394.68" width="19.66" height="12.56" fill="#FEDF90" stroke="#b0b2b8" stroke-width="1.2"/>
<rect x="97.30" y="407.24" width="19.66" height="12.56" fill="#4472B9" stroke="#b0b2b8" stroke-width="1.2"/>
<rect x="116.96" y="407.24" width="19.66" height="12.56" fill="#4472B9" stroke="#b0b2b8" stroke-width="1.2"/>
<rect x="136.62" y="407.24" width="19.66" height="12.56" fill="#E0F3F8" stroke="#b0b2b8" stroke-width="1.2"/>
<rect x="156.28" y="407.24" width="19.66" height="12.56" fill="#4472B9" stroke="#b0b2b8" stroke-width="1.2"/>
<rect x="175.95" y="407.24" width="19.66" height="12.56" fill="#4472B9" stroke="#b0b2b8" stroke-width="1.2"/>
<rect x="195.61" y="407.24" width="19.66" height="12.56" fill="#4472B9" stroke="#b0b2b8" stroke-width="1.2"/>
<rect x="215.27" y="407.24" width="19.66" height="12.56" fill="#4472B9" stroke="#b0b2b8" stroke-width="1.2"/>
<rect x="234.93" y="407.24" width="19.66" height="12.56" fill="#E02E26" stroke="#b0b2b8" stroke-width="1.2"/>
<rect x="254.59" y="407.24" width="19.66" height="12.56" fill="#E0F3F8" stroke="#b0b2b8" stroke-width="1.2"/>
<rect x="274.25" y="407.24" width="19.66" height="12.56" fill="#FEDF90" stroke="#b0b2b8" stroke-width="1.2"/>
<rect x="293.92" y="407.24" width="19.66" height="12.56" fill="#E0F3F8" stroke="#b0b2b8" stroke-width="1.2"/>
<rect x="313.58" y="407.24" width="19.66" height="12.56" fill="#E02E26" stroke="#b0b2b8" stroke-width="1.2"/>
<rect x="333.24" y="407.24" width="19.66" height="12.56" fill="#E02E26" stroke="#b0b2b8" stroke-width="1.2"/>
<rect x="84.2" y="55.60" width="10.60" height="12.56" fill="#F98D85" stroke="#b0b2b8" stroke-width="1.2"/>
<rect x="84.2" y="68.16" width="10.60" height="12.56" fill="#F98D85" stroke="#b0b2b8" stroke-width="1.2"/>
<rect x="84.2" y="80.72" width="10.60" height="12.56" fill="#F98D85" stroke="#b0b2b8" stroke-width="1.2"/>
<rect x="84.2" y="93.28" width="10.60" height="12.56" fill="#F98D85" stroke="#b0b2b8" stroke-width="1.2"/>
<rect x="84.2" y="105.83" width="10.60" height="12.56" fill="#F98D85" stroke="#b0b2b8" stroke-width="1.2"/>
<rect x="84.2" y="118.39" width="10.60" height="12.56" fill="#82B2F8" stroke="#b0b2b8" stroke-width="1.2"/>
<rect x="84.2" y="130.95" width="10.60" height="12.56" fill="#F98D85" stroke="#b0b2b8" stroke-width="1.2"/>
<rect x="84.2" y="143.51" width="10.60" height="12.56" fill="#F98D85" stroke="#b0b2b8" stroke-width="1.2"/>
<rect x="84.2" y="156.07" width="10.60" height="12.56" fill="#82B2F8" stroke="#b0b2b8" stroke-width="1.2"/>
<rect x="84.2" y="168.63" width="10.60" height="12.56" fill="#82B2F8" stroke="#b0b2b8" stroke-width="1.2"/>
<rect x="84.2" y="181.19" width="10.60" height="12.56" fill="#82B2F8" stroke="#b0b2b8" stroke-width="1.2"/>
<rect x="84.2" y="193.74" width="10.60" height="12.56" fill="#82B2F8" stroke="#b0b2b8" stroke-width="1.2"/>
<rect x="84.2" y="206.30" width="10.60" height="12.56" fill="#82B2F8" stroke="#b0b2b8" stroke-width="1.2"/>
<rect x="84.2" y="218.86" width="10.60" height="12.56" fill="#00CF58" stroke="#b0b2b8" stroke-width="1.2"/>
<rect x="84.2" y="231.42" width="10.60" height="12.56" fill="#00CF58" stroke="#b0b2b8" stroke-width="1.2"/>
<rect x="84.2" y="243.98" width="10.60" height="12.56" fill="#00CF58" stroke="#b0b2b8" stroke-width="1.2"/>
<rect x="84.2" y="256.54" width="10.60" height="12.56" fill="#00CF58" stroke="#b0b2b8" stroke-width="1.2"/>
<rect x="84.2" y="269.10" width="10.60" height="12.56" fill="#F98D85" stroke="#b0b2b8" stroke-width="1.2"/>
<rect x="84.2" y="281.66" width="10.60" height="12.56" fill="#F98D85" stroke="#b0b2b8" stroke-width="1.2"/>
<rect x="84.2" y="294.21" width="10.60" height="12.56" fill="#F98D85" stroke="#b0b2b8" stroke-width="1.2"/>
<rect x="84.2" y="306.77" width="10.60" height="12.56" fill="#F98D85" stroke="#b0b2b8" stroke-width="1.2"/>
<rect x="84.2" y="319.33" width="10.60" height="12.56" fill="#F98D85" stroke="#b0b2b8" stroke-width="1.2"/>
<rect x="84.2" y="331.89" width="10.60" height="12.56" fill="#F98D85" stroke="#b0b2b8" stroke-width="1.2"/>
<rect x="84.2" y="344.45" width="10.60" height="12.56" fill="#F98D85" stroke="#b0b2b8" stroke-width="1.2"/>
<rect x="84.2" y="357.01" width="10.60" height="12.56" fill="#F98D85" stroke="#b0b2b8" stroke-width="1.2"/>
<rect x="84.2" y="369.57" width="10.60" height="12.56" fill="#F98D85" stroke="#b0b2b8" stroke-width="1.2"/>
<rect x="84.2" y="382.12" width="10.60" height="12.56" fill="#F98D85" stroke="#b0b2b8" stroke-width="1.2"/>
<rect x="84.2" y="394.68" width="10.60" height="12.56" fill="#F98D85" stroke="#b0b2b8" stroke-width="1.2"/>
<rect x="84.2" y="407.24" width="10.60" height="12.56" fill="#F98D85" stroke="#b0b2b8" stroke-width="1.2"/>
<text x="356" y="65.58" font-size="9.9" font-family='"Liberation Sans", sans-serif' fill="#111" stroke="#111" stroke-width="0.22">H878Y</text>
<text x="356" y="78.14" font-size="9.9" font-family='"Liberation Sans", sans-serif' fill="#111" stroke="#111" stroke-width="0.22">L755_T759del</text>
<text x="356" y="90.70" font-size="9.9" font-family='"Liberation Sans", sans-serif' fill="#111" stroke="#111" stroke-width="0.22">Y772_A775dup</text>
<text x="356" y="103.26" font-size="9.9" font-family='"Liberation Sans", sans-serif' fill="#111" stroke="#111" stroke-width="0.22">T798I</text>
<text x="356" y="115.81" font-size="9.9" font-family='"Liberation Sans", sans-serif' fill="#111" stroke="#111" stroke-width="0.22">L869R</text>
<text x="356" y="128.37" font-size="9.9" font-family='"Liberation Sans", sans-serif' fill="#111" stroke="#111" stroke-width="0.22">S653C</text>
<text x="356" y="140.93" font-size="9.9" font-family='"Liberation Sans", sans-serif' fill="#111" stroke="#111" stroke-width="0.22">T733I</text>
<text x="356" y="153.49" font-size="9.9" font-family='"Liberation Sans", sans-serif' fill="#111" stroke="#111" stroke-width="0.22">T798M</text>
<text x="356" y="166.05" font-size="9.9" font-family='"Liberation Sans", sans-serif' fill="#111" stroke="#111" stroke-width="0.22">V659E</text>
<text x="356" y="178.61" font-size="9.9" font-family='"Liberation Sans", sans-serif' fill="#111" stroke="#111" stroke-width="0.22">Q709L</text>
<text x="356" y="191.17" font-size="9.9" font-family='"Liberation Sans", sans-serif' fill="#111" stroke="#111" stroke-width="0.22">G660D</text>
<text x="356" y="203.72" font-size="9.9" font-family='"Liberation Sans", sans-serif' fill="#111" stroke="#111" stroke-width="0.22">G660R</text>
<text x="356" y="216.28" font-size="9.9" font-family='"Liberation Sans", sans-serif' fill="#111" stroke="#111" stroke-width="0.22">R678Q</text>
<text x="356" y="228.84" font-size="9.9" font-family='"Liberation Sans", sans-serif' fill="#111" stroke="#111" stroke-width="0.22">G309A</text>
<text x="356" y="241.40" font-size="9.9" font-family='"Liberation Sans", sans-serif' fill="#111" stroke="#111" stroke-width="0.22">S310Y</text>
<text x="356" y="253.96" font-size="9.9" font-family='"Liberation Sans", sans-serif' fill="#111" stroke="#111" stroke-width="0.22">G309E</text>
<text x="356" y="266.52" font-size="9.9" font-family='"Liberation Sans", sans-serif' fill="#111" stroke="#111" stroke-width="0.22">S310F</text>
<text x="356" y="279.08" font-size="9.9" font-family='"Liberation Sans", sans-serif' fill="#111" stroke="#111" stroke-width="0.22">V777L</text>
<text x="356" y="291.63" font-size="9.9" font-family='"Liberation Sans", sans-serif' fill="#111" stroke="#111" stroke-width="0.22">D769H</text>
<text x="356" y="304.19" font-size="9.9" font-family='"Liberation Sans", sans-serif' fill="#111" stroke="#111" stroke-width="0.22">L755M</text>
<text x="356" y="316.75" font-size="9.9" font-family='"Liberation Sans", sans-serif' fill="#111" stroke="#111" stroke-width="0.22">V777M</text>
<text x="356" y="329.31" font-size="9.9" font-family='"Liberation Sans", sans-serif' fill="#111" stroke="#111" stroke-width="0.22">I767M</text>
<text x="356" y="341.87" font-size="9.9" font-family='"Liberation Sans", sans-serif' fill="#111" stroke="#111" stroke-width="0.22">L755S</text>
<text x="356" y="354.43" font-size="9.9" font-family='"Liberation Sans", sans-serif' fill="#111" stroke="#111" stroke-width="0.22">R896C</text>
<text x="356" y="366.99" font-size="9.9" font-family='"Liberation Sans", sans-serif' fill="#111" stroke="#111" stroke-width="0.22">G778_P780dup</text>
<text x="356" y="379.54" font-size="9.9" font-family='"Liberation Sans", sans-serif' fill="#111" stroke="#111" stroke-width="0.22">D769Y</text>
<text x="356" y="392.10" font-size="9.9" font-family='"Liberation Sans", sans-serif' fill="#111" stroke="#111" stroke-width="0.22">V842I</text>
<text x="356" y="404.66" font-size="9.9" font-family='"Liberation Sans", sans-serif' fill="#111" stroke="#111" stroke-width="0.22">L755P</text>
<text x="356" y="417.22" font-size="9.9" font-family='"Liberation Sans", sans-serif' fill="#111" stroke="#111" stroke-width="0.22">T862A</text>
<text transform="translate(103.73,423) rotate(90)" font-size="9.8" font-family='"Liberation Sans", sans-serif' fill="#111" stroke="#111" stroke-width="0.22">AZ5104</text>
<text transform="translate(123.39,423) rotate(90)" font-size="9.8" font-family='"Liberation Sans", sans-serif' fill="#111" stroke="#111" stroke-width="0.22">Tesevatinib</text>
<text transform="translate(143.05,423) rotate(90)" font-size="9.8" font-family='"Liberation Sans", sans-serif' fill="#111" stroke="#111" stroke-width="0.22">AEE788</text>
<text transform="translate(162.72,423) rotate(90)" font-size="9.8" font-family='"Liberation Sans", sans-serif' fill="#111" stroke="#111" stroke-width="0.22">Canertinib</text>
<text transform="translate(182.38,423) rotate(90)" font-size="9.8" font-family='"Liberation Sans", sans-serif' fill="#111" stroke="#111" stroke-width="0.22">CP.724714</text>
<text transform="translate(202.04,423) rotate(90)" font-size="9.8" font-family='"Liberation Sans", sans-serif' fill="#111" stroke="#111" stroke-width="0.22">Gefitinib</text>
<text transform="translate(221.70,423) rotate(90)" font-size="9.8" font-family='"Liberation Sans", sans-serif' fill="#111" stroke="#111" stroke-width="0.22">Pertuzumab</text>
<text transform="translate(241.36,423) rotate(90)" font-size="9.8" font-family='"Liberation Sans", sans-serif' fill="#111" stroke="#111" stroke-width="0.22">Osimertinib</text>
<text transform="translate(261.02,423) rotate(90)" font-size="9.8" font-family='"Liberation Sans", sans-serif' fill="#111" stroke="#111" stroke-width="0.22">Sapitinib</text>
<text transform="translate(280.68,423) rotate(90)" font-size="9.8" font-family='"Liberation Sans", sans-serif' fill="#111" stroke="#111" stroke-width="0.22">Lapatinib</text>
<text transform="translate(300.35,423) rotate(90)" font-size="9.8" font-family='"Liberation Sans", sans-serif' fill="#111" stroke="#111" stroke-width="0.22">Trastuzumab</text>
<text transform="translate(320.01,423) rotate(90)" font-size="9.8" font-family='"Liberation Sans", sans-serif' fill="#111" stroke="#111" stroke-width="0.22">Neratinib</text>
<text transform="translate(339.67,423) rotate(90)" font-size="9.8" font-family='"Liberation Sans", sans-serif' fill="#111" stroke="#111" stroke-width="0.22">Afatinib</text>
<text transform="translate(85.6,423) rotate(90)" font-size="9.8" font-weight="bold" font-family='"Liberation Sans", sans-serif' fill="#111">ERBB2_Domain</text>
<path d="M84.20,74.44 L65.20,74.44 L65.20,87.00 L84.20,87.00" fill="none" stroke="#111" stroke-width="1.4"/>
<path d="M84.20,99.56 L61.10,99.56 L61.10,112.11 L84.20,112.11" fill="none" stroke="#111" stroke-width="1.4"/>
<path d="M84.20,137.23 L64.50,137.23 L64.50,149.79 L84.20,149.79" fill="none" stroke="#111" stroke-width="1.4"/>
<path d="M84.20,124.67 L59.80,124.67 L59.80,143.51 L64.50,143.51" fill="none" stroke="#111" stroke-width="1.4"/>
<path d="M61.10,105.83 L50.30,105.83 L50.30,134.09 L59.80,134.09" fill="none" stroke="#111" stroke-width="1.4"/>
<path d="M65.20,80.72 L44.20,80.72 L44.20,119.96 L50.30,119.96" fill="none" stroke="#111" stroke-width="1.4"/>
<path d="M84.20,187.47 L83.30,187.47 L83.30,200.02 L84.20,200.02" fill="none" stroke="#111" stroke-width="1.4"/>
<path d="M84.20,174.91 L83.30,174.91 L83.30,193.74 L83.30,193.74" fill="none" stroke="#111" stroke-width="1.4"/>
<path d="M84.20,162.35 L65.50,162.35 L65.50,184.33 L83.30,184.33" fill="none" stroke="#111" stroke-width="1.4"/>
<path d="M84.20,250.26 L83.30,250.26 L83.30,262.82 L84.20,262.82" fill="none" stroke="#111" stroke-width="1.4"/>
<path d="M84.20,237.70 L83.30,237.70 L83.30,256.54 L83.30,256.54" fill="none" stroke="#111" stroke-width="1.4"/>
<path d="M84.20,225.14 L65.50,225.14 L65.50,247.12 L83.30,247.12" fill="none" stroke="#111" stroke-width="1.4"/>
<path d="M84.20,212.58 L57.70,212.58 L57.70,236.13 L65.50,236.13" fill="none" stroke="#111" stroke-width="1.4"/>
<path d="M65.50,173.34 L55.70,173.34 L55.70,224.36 L57.70,224.36" fill="none" stroke="#111" stroke-width="1.4"/>
<path d="M84.20,300.49 L77.30,300.49 L77.30,313.05 L84.20,313.05" fill="none" stroke="#111" stroke-width="1.4"/>
<path d="M84.20,287.93 L74.60,287.93 L74.60,306.77 L77.30,306.77" fill="none" stroke="#111" stroke-width="1.4"/>
<path d="M84.20,275.38 L67.00,275.38 L67.00,297.35 L74.60,297.35" fill="none" stroke="#111" stroke-width="1.4"/>
<path d="M84.20,375.84 L77.40,375.84 L77.40,388.40 L84.20,388.40" fill="none" stroke="#111" stroke-width="1.4"/>
<path d="M84.20,363.29 L72.90,363.29 L72.90,382.12 L77.40,382.12" fill="none" stroke="#111" stroke-width="1.4"/>
<path d="M84.20,350.73 L72.50,350.73 L72.50,372.71 L72.90,372.71" fill="none" stroke="#111" stroke-width="1.4"/>
<path d="M84.20,400.96 L71.40,400.96 L71.40,413.52 L84.20,413.52" fill="none" stroke="#111" stroke-width="1.4"/>
<path d="M72.50,361.72 L63.90,361.72 L63.90,407.24 L71.40,407.24" fill="none" stroke="#111" stroke-width="1.4"/>
<path d="M84.20,338.17 L59.50,338.17 L59.50,384.48 L63.90,384.48" fill="none" stroke="#111" stroke-width="1.4"/>
<path d="M84.20,325.61 L59.00,325.61 L59.00,361.32 L59.50,361.32" fill="none" stroke="#111" stroke-width="1.4"/>
<path d="M67.00,286.36 L54.30,286.36 L54.30,343.47 L59.00,343.47" fill="none" stroke="#111" stroke-width="1.4"/>
<path d="M55.70,198.85 L43.20,198.85 L43.20,314.92 L54.30,314.92" fill="none" stroke="#111" stroke-width="1.4"/>
<path d="M44.20,100.34 L39.40,100.34 L39.40,256.88 L43.20,256.88" fill="none" stroke="#111" stroke-width="1.4"/>
<path d="M84.20,61.88 L30.80,61.88 L30.80,178.61 L39.40,178.61" fill="none" stroke="#111" stroke-width="1.4"/>
<path d="M107.13,55.60 L107.13,39.00 L126.79,39.00 L126.79,55.60" fill="none" stroke="#111" stroke-width="1.4"/>
<path d="M146.45,55.60 L146.45,47.90 L175.95,47.90 L175.95,55.60" fill="none" stroke="#111" stroke-width="1.4"/>
<path d="M205.44,55.60 L205.44,39.00 L225.10,39.00 L225.10,55.60" fill="none" stroke="#111" stroke-width="1.4"/>
<path d="M161.20,47.90 L161.20,37.70 L215.27,37.70 L215.27,39.00" fill="none" stroke="#111" stroke-width="1.4"/>
<path d="M116.96,39.00 L116.96,35.00 L188.23,35.00 L188.23,37.70" fill="none" stroke="#111" stroke-width="1.4"/>
<path d="M244.76,55.60 L244.76,41.70 L264.42,41.70 L264.42,55.60" fill="none" stroke="#111" stroke-width="1.4"/>
<path d="M284.08,55.60 L284.08,29.60 L303.75,29.60 L303.75,55.60" fill="none" stroke="#111" stroke-width="1.4"/>
<path d="M323.41,55.60 L323.41,29.60 L343.07,29.60 L343.07,55.60" fill="none" stroke="#111" stroke-width="1.4"/>
<path d="M293.92,29.60 L293.92,19.70 L333.24,19.70 L333.24,29.60" fill="none" stroke="#111" stroke-width="1.4"/>
<path d="M254.59,41.70 L254.59,17.50 L313.58,17.50 L313.58,19.70" fill="none" stroke="#111" stroke-width="1.4"/>
<path d="M152.60,35.00 L152.60,3.90 L284.08,3.90 L284.08,17.50" fill="none" stroke="#111" stroke-width="1.4"/>
<rect x="426.2" y="42.1" width="87.5" height="71.7" fill="#fff" stroke="#34406b" stroke-width="1.4"/>
<text x="433.6" y="63.3" font-size="9.9" font-weight="bold" font-family='"Liberation Sans", sans-serif' fill="#111">ERBB2_Domain</text>
<rect x="433.2" y="66.70" width="14.3" height="14.3" fill="#00CF58"/>
<text x="450.8" y="77.30" font-size="9.9" font-family='"Liberation Sans", sans-serif' fill="#111" stroke="#111" stroke-width="0.22">ECD</text>
<rect x="433.2" y="81.00" width="14.3" height="14.3" fill="#F98D85"/>
<text x="450.8" y="91.60" font-size="9.9" font-family='"Liberation Sans", sans-serif' fill="#111" stroke="#111" stroke-width="0.22">KD</text>
<rect x="433.2" y="95.30" width="14.3" height="14.3" fill="#82B2F8"/>
<text x="450.8" y="105.90" font-size="9.9" font-family='"Liberation Sans", sans-serif' fill="#111" stroke="#111" stroke-width="0.22">TMD/JMD</text>
<rect x="391.6" y="375.9" width="121.8" height="118.2" fill="#fff" stroke="#222" stroke-width="1.2"/>
<rect x="396" y="391.70" width="22.2" height="11" fill="#E02E26"/>
<text x="435.8" y="400.30" font-size="8.65" font-family='"Liberation Sans", sans-serif' fill="#111" stroke="#111" stroke-width="0.2">Sensitive</text>
<rect x="396" y="417.40" width="22.2" height="11" fill="#FEDF90"/>
<text x="435.8" y="426.00" font-size="8.65" font-family='"Liberation Sans", sans-serif' fill="#111" stroke="#111" stroke-width="0.2">Partially sensitive</text>
<rect x="396" y="443.10" width="22.2" height="11" fill="#E0F3F8"/>
<text x="435.8" y="451.70" font-size="8.65" font-family='"Liberation Sans", sans-serif' fill="#111" stroke="#111" stroke-width="0.2">Resistant</text>
<rect x="396" y="468.80" width="22.2" height="11" fill="#4472B9"/>
<text x="435.8" y="477.40" font-size="8.65" font-family='"Liberation Sans", sans-serif' fill="#111" stroke="#111" stroke-width="0.2">Not tested</text>
<rect x="28.5" y="510.5" width="488.5" height="262.6" fill="#fff"/>
<rect x="29" y="515" width="488" height="104" fill="url(#glow)"/>
<rect x="29" y="619" width="488" height="150" fill="url(#below)"/>
<path mask="url(#mm)" d="M33,619 C40,616.6 50,615.6 70,615.6 C120,614.8 200,616.6 280,615.6 C360,614.8 430,616.2 470,615.6 C485,615.8 492,617.5 497,619 C492,620.5 485,621.8 470,622 C430,622.4 360,621.4 280,622.2 C200,622.8 120,621.6 70,621.8 C50,621.8 40,621 33,619 Z" fill="url(#mem)"/>
<rect x="28.5" y="510.5" width="488.5" height="262.6" fill="none" stroke="#222" stroke-width="1.3"/>
<text transform="translate(1.9,533.8) scale(0.82,1)" font-size="17.4" letter-spacing="3.6" font-family='"Liberation Sans", sans-serif' fill="#111" stroke="#111" stroke-width="0.35">B)</text>
<path d="M78.5,586.5 C82.5,591 84,595 84,601 L84,623 C84,630 76,634 74.8,642" fill="none" stroke="#27ae95" stroke-width="2.7" stroke-linecap="round"/>
<path d="M92,586.5 C88,591 86.9,595 86.9,601 L86.9,623 C86.9,630 95,634 96.2,642" fill="none" stroke="#27ae95" stroke-width="2.7" stroke-linecap="round"/>
<path d="M74.9,660 L74.9,670.4" fill="none" stroke="#1f9a7c" stroke-width="2.7" stroke-linecap="round"/>
<path d="M96.1,660 L96.1,670.4" fill="none" stroke="#1f9a7c" stroke-width="2.7" stroke-linecap="round"/>
<path d="M70.38,574.46 A4.03,6.92 0 1 1 70.38,584.74" fill="none" stroke="url(#gb)" stroke-width="4.8" stroke-linecap="round"/>
<circle cx="70.38" cy="574.16" r="2.88" fill="#3690d2"/>
<circle cx="70.38" cy="585.04" r="2.88" fill="#2470b5"/>
<path d="M100.02,574.46 A3.43,6.92 0 1 0 100.02,584.74" fill="none" stroke="url(#gb)" stroke-width="4.8" stroke-linecap="round"/>
<circle cx="100.02" cy="574.16" r="2.88" fill="#3690d2"/>
<circle cx="100.02" cy="585.04" r="2.88" fill="#2470b5"/>
<path d="M79.72,647.05 A3.19,6.52 0 1 0 79.72,656.75" fill="none" stroke="url(#gb)" stroke-width="4.8" stroke-linecap="round"/>
<circle cx="79.72" cy="646.75" r="2.88" fill="#3690d2"/>
<circle cx="79.72" cy="657.05" r="2.88" fill="#2470b5"/>
<path d="M91.28,647.05 A3.19,6.52 0 1 1 91.28,656.75" fill="none" stroke="url(#gb)" stroke-width="4.8" stroke-linecap="round"/>
<circle cx="91.28" cy="646.75" r="2.88" fill="#3690d2"/>
<circle cx="91.28" cy="657.05" r="2.88" fill="#2470b5"/>
<path d="M179.6,594 C181.5,601 190.7,604 190.7,612 L190.7,633" fill="none" stroke="#a896e0" stroke-width="2.7" stroke-linecap="round"/>
<path d="M193,587 C188.5,592 186.4,596 186.4,603 L186.4,622 C186.4,630 175.5,634 174.5,642" fill="none" stroke="#27ae95" stroke-width="2.7" stroke-linecap="round"/>
<path d="M174,660 L174,670" fill="none" stroke="#1f9a7c" stroke-width="2.7" stroke-linecap="round"/>
<path d="M191.7,651 C186,656 187,659 190,662 C192.5,665 191.3,667 191.3,670" fill="none" stroke="#34258c" stroke-width="2.7" stroke-linecap="round"/>
<path d="M174.64,579.13 A3.61,6.76 0 1 1 174.64,591.07" fill="none" stroke="url(#gp)" stroke-width="5.9" stroke-linecap="round"/>
<circle cx="174.64" cy="578.83" r="3.54" fill="#9869c0"/>
<circle cx="174.64" cy="591.37" r="3.54" fill="#8a5cb4"/>
<circle cx="171.3" cy="584.9" r="5.4" fill="url(#sph)"/>
<path d="M199.42,574.66 A3.79,6.92 0 1 0 199.42,584.94" fill="none" stroke="url(#gb)" stroke-width="4.8" stroke-linecap="round"/>
<circle cx="199.42" cy="574.36" r="2.88" fill="#3690d2"/>
<circle cx="199.42" cy="585.24" r="2.88" fill="#2470b5"/>
<path d="M178.32,646.53 A3.19,7.22 0 1 0 178.32,657.27" fill="none" stroke="url(#gb)" stroke-width="4.8" stroke-linecap="round"/>
<circle cx="178.32" cy="646.23" r="2.88" fill="#3690d2"/>
<circle cx="178.32" cy="657.57" r="2.88" fill="#2470b5"/>
<path d="M187.74,636.93 A3.14,6.36 0 1 1 187.74,646.67" fill="none" stroke="url(#gp)" stroke-width="5.4" stroke-linecap="round"/>
<circle cx="187.74" cy="636.63" r="3.24" fill="#9869c0"/>
<circle cx="187.74" cy="646.97" r="3.24" fill="#8a5cb4"/>
<rect x="170.6" y="649.0" width="5.6" height="5.8" fill="#cc1f45"/>
<path d="M289.6,594 C291.5,601 300.7,604 300.7,612 L300.7,633" fill="none" stroke="#a896e0" stroke-width="2.7" stroke-linecap="round"/>
<path d="M303,587 C298.5,592 296.4,596 296.4,603 L296.4,622 C296.4,630 285.5,634 284.5,642" fill="none" stroke="#27ae95" stroke-width="2.7" stroke-linecap="round"/>
<path d="M284,660 L284,670" fill="none" stroke="#1f9a7c" stroke-width="2.7" stroke-linecap="round"/>
<path d="M301.7,651 C296,656 297,659 300,662 C302.5,665 301.3,667 301.3,670" fill="none" stroke="#34258c" stroke-width="2.7" stroke-linecap="round"/>
<path d="M284.64,579.13 A3.61,6.76 0 1 1 284.64,591.07" fill="none" stroke="url(#gp)" stroke-width="5.9" stroke-linecap="round"/>
<circle cx="284.64" cy="578.83" r="3.54" fill="#9869c0"/>
<circle cx="284.64" cy="591.37" r="3.54" fill="#8a5cb4"/>
<circle cx="281.3" cy="584.9" r="5.4" fill="url(#sph)"/>
<path d="M309.42,574.66 A3.79,6.92 0 1 0 309.42,584.94" fill="none" stroke="url(#gb)" stroke-width="4.8" stroke-linecap="round"/>
<circle cx="309.42" cy="574.36" r="2.88" fill="#3690d2"/>
<circle cx="309.42" cy="585.24" r="2.88" fill="#2470b5"/>
<path d="M288.32,646.53 A3.19,7.22 0 1 0 288.32,657.27" fill="none" stroke="url(#gb)" stroke-width="4.8" stroke-linecap="round"/>
<circle cx="288.32" cy="646.23" r="2.88" fill="#3690d2"/>
<circle cx="288.32" cy="657.57" r="2.88" fill="#2470b5"/>
<path d="M297.74,636.93 A3.14,6.36 0 1 1 297.74,646.67" fill="none" stroke="url(#gp)" stroke-width="5.4" stroke-linecap="round"/>
<circle cx="297.74" cy="636.63" r="3.24" fill="#9869c0"/>
<circle cx="297.74" cy="646.97" r="3.24" fill="#8a5cb4"/>
<rect x="300.9" y="576.9" width="5.2" height="5.6" fill="#cc1f45"/>
<path d="M406.1,594 C408.0,601 417.2,604 417.2,612 L417.2,633" fill="none" stroke="#a896e0" stroke-width="2.7" stroke-linecap="round"/>
<path d="M419.5,587 C415.0,592 412.9,596 412.9,603 L412.9,622 C412.9,630 402.0,634 401.0,642" fill="none" stroke="#27ae95" stroke-width="2.7" stroke-linecap="round"/>
<path d="M400.5,660 L400.5,670" fill="none" stroke="#1f9a7c" stroke-width="2.7" stroke-linecap="round"/>
<path d="M418.2,651 C412.5,656 413.5,659 416.5,662 C419.0,665 417.8,667 417.8,670" fill="none" stroke="#34258c" stroke-width="2.7" stroke-linecap="round"/>
<path d="M401.14,579.13 A3.61,6.76 0 1 1 401.14,591.07" fill="none" stroke="url(#gp)" stroke-width="5.9" stroke-linecap="round"/>
<circle cx="401.14" cy="578.83" r="3.54" fill="#9869c0"/>
<circle cx="401.14" cy="591.37" r="3.54" fill="#8a5cb4"/>
<circle cx="397.8" cy="584.9" r="5.4" fill="url(#sph)"/>
<path d="M425.92,574.66 A3.79,6.92 0 1 0 425.92,584.94" fill="none" stroke="url(#gb)" stroke-width="4.8" stroke-linecap="round"/>
<circle cx="425.92" cy="574.36" r="2.88" fill="#3690d2"/>
<circle cx="425.92" cy="585.24" r="2.88" fill="#2470b5"/>
<path d="M404.82,646.53 A3.19,7.22 0 1 0 404.82,657.27" fill="none" stroke="url(#gb)" stroke-width="4.8" stroke-linecap="round"/>
<circle cx="404.82" cy="646.23" r="2.88" fill="#3690d2"/>
<circle cx="404.82" cy="657.57" r="2.88" fill="#2470b5"/>
<path d="M414.24,636.93 A3.14,6.36 0 1 1 414.24,646.67" fill="none" stroke="url(#gp)" stroke-width="5.4" stroke-linecap="round"/>
<circle cx="414.24" cy="636.63" r="3.24" fill="#9869c0"/>
<circle cx="414.24" cy="646.97" r="3.24" fill="#8a5cb4"/>
<rect x="412.1" y="615.4" width="6.2" height="6.2" fill="#cc1f45"/>
<path d="M85.40,673.80 L143.00,729.40 L207.00,729.40" fill="none" stroke="url(#ag1)" stroke-width="2.8" stroke-linejoin="round"/>
<path d="M210.78,729.40 L206.50,732.60 L206.50,726.20 Z" fill="#b0124a"/>
<path d="M174.60,673.20 L221.50,719.50" fill="none" stroke="url(#ag2)" stroke-width="2.8" stroke-linejoin="round"/>
<path d="M224.19,722.16 L218.90,721.43 L223.39,716.87 Z" fill="#b0124a"/>
<path d="M184.60,673.20 L215.40,703.80 L268.50,703.80" fill="none" stroke="url(#ag3)" stroke-width="2.8" stroke-linejoin="round"/>
<path d="M272.28,703.80 L268.00,707.00 L268.00,700.60 Z" fill="#b0124a"/>
<path d="M194.60,673.20 L200.00,678.40 L207.50,678.40" fill="none" stroke="url(#ag4)" stroke-width="2.8" stroke-linejoin="round"/>
<path d="M211.28,678.40 L207.00,681.60 L207.00,675.20 Z" fill="#b0124a"/>
<path d="M150.50,655.60 L164.50,655.60" fill="none" stroke="url(#ag5)" stroke-width="3" stroke-linejoin="round"/>
<path d="M168.28,655.60 L164.00,658.80 L164.00,652.40 Z" fill="#b0124a"/>
<path d="M281.00,673.20 L275.60,678.40 L267.50,678.40" fill="none" stroke="url(#ag6)" stroke-width="2.8" stroke-linejoin="round"/>
<path d="M263.72,678.40 L268.00,675.20 L268.00,681.60 Z" fill="#b0124a"/>
<path d="M292.5,672.8 C284,682 270,689 253,691.8 Q245,693.3 244.8,700 L244.8,719.5" fill="none" stroke="url(#ag7)" stroke-width="2.8" stroke-linejoin="round"/>
<path d="M244.80,723.28 L241.60,719.00 L248.00,719.00 Z" fill="#b0124a"/>
<path d="M300.80,673.20 L300.80,695.50" fill="none" stroke="url(#ag8)" stroke-width="2.8" stroke-linejoin="round"/>
<path d="M300.80,699.28 L297.60,695.00 L304.00,695.00 Z" fill="#b0124a"/>
<path d="M404.00,673.20 L373.00,703.80 L333.50,703.80" fill="none" stroke="url(#ag9)" stroke-width="2.8" stroke-linejoin="round"/>
<path d="M329.72,703.80 L334.00,700.60 L334.00,707.00 Z" fill="#b0124a"/>
<path d="M413.50,673.20 L359.00,729.40 L282.50,729.40" fill="none" stroke="url(#ag10)" stroke-width="2.8" stroke-linejoin="round"/>
<path d="M278.72,729.40 L283.00,726.20 L283.00,732.60 Z" fill="#b0124a"/>
<rect x="213.5" y="674.8" width="49.6" height="7.2" rx="2.2" fill="#45b0dc"/>
<text x="238.30" y="679.91" font-size="4.2" font-weight="bold" text-anchor="middle" font-family='"Liberation Sans", sans-serif' fill="#fff" stroke="#fff" stroke-width="0.22">PI3K/AKT SIGNALING</text>
<rect x="274.6" y="700.8" width="53" height="6.4" rx="2.2" fill="#45b0dc"/>
<text x="301.10" y="705.51" font-size="4.2" font-weight="bold" text-anchor="middle" font-family='"Liberation Sans", sans-serif' fill="#fff" stroke="#fff" stroke-width="0.22">PLCgamma SIGNALING</text>
<rect x="213.3" y="726.4" width="62.5" height="6.8" rx="2.2" fill="#45b0dc"/>
<text x="244.55" y="731.31" font-size="4.2" font-weight="bold" text-anchor="middle" font-family='"Liberation Sans", sans-serif' fill="#fff" stroke="#fff" stroke-width="0.22">RAS/RAF/MAPK SIGNALING</text>
<rect x="50.5" y="527" width="70" height="15.5" rx="3" fill="#ba154b"/>
<text x="85.50" y="533.72" font-size="4.3" font-weight="bold" text-anchor="middle" font-family='"Liberation Sans", sans-serif' fill="#fff" stroke="#fff" stroke-width="0.22">CONSTITUTIVE SIGNALING</text>
<text x="85.50" y="538.88" font-size="4.3" font-weight="bold" text-anchor="middle" font-family='"Liberation Sans", sans-serif' fill="#fff" stroke="#fff" stroke-width="0.22">BY OVEREXPRESSED ERBB2</text>
<rect x="143.4" y="529.2" width="85.4" height="10.4" rx="3" fill="#ba154b"/>
<text x="186.10" y="535.95" font-size="4.3" font-weight="bold" text-anchor="middle" font-family='"Liberation Sans", sans-serif' fill="#fff" stroke="#fff" stroke-width="0.22">SIGNALING BY ERBB2 KD MUTANTS</text>
<rect x="252.3" y="529.5" width="87.7" height="10.1" rx="3" fill="#ba154b"/>
<text x="296.15" y="536.10" font-size="4.3" font-weight="bold" text-anchor="middle" font-family='"Liberation Sans", sans-serif' fill="#fff" stroke="#fff" stroke-width="0.22">SIGNALING BY ERBB2 ECD MUTANTS</text>
<rect x="363" y="529.5" width="98.5" height="10.1" rx="3" fill="#ba154b"/>
<text x="412.25" y="536.10" font-size="4.3" font-weight="bold" text-anchor="middle" font-family='"Liberation Sans", sans-serif' fill="#fff" stroke="#fff" stroke-width="0.22">SIGNALING BY ERBB2 TMD/JMD MUTANTS</text>
<rect x="108.6" y="670.5" width="55.2" height="15" rx="3" fill="#ba154b"/>
<text x="136.20" y="676.97" font-size="4.3" font-weight="bold" text-anchor="middle" font-family='"Liberation Sans", sans-serif' fill="#fff" stroke="#fff" stroke-width="0.22">DRUG RESISTANCE IN</text>
<text x="136.20" y="682.13" font-size="4.3" font-weight="bold" text-anchor="middle" font-family='"Liberation Sans", sans-serif' fill="#fff" stroke="#fff" stroke-width="0.22">ERBB2 KD MUTANTS</text>
<rect x="428.3" y="628.2" width="65.5" height="13.6" rx="3" fill="#ba154b"/>
<text x="461.05" y="633.97" font-size="4.3" font-weight="bold" text-anchor="middle" font-family='"Liberation Sans", sans-serif' fill="#fff" stroke="#fff" stroke-width="0.22">DRUG RESISTANCE IN</text>
<text x="461.05" y="639.13" font-size="4.3" font-weight="bold" text-anchor="middle" font-family='"Liberation Sans", sans-serif' fill="#fff" stroke="#fff" stroke-width="0.22">ERBB2 TMD/JMD MUTANTS</text>
<text x="85.2" y="562.7" font-size="4.35" font-weight="bold" text-anchor="middle" font-family='"Liberation Sans", sans-serif' fill="#111" stroke="#111" stroke-width="0.25">ERBB2 HOMODIMER</text>
<text x="186" y="562.7" font-size="4.35" font-weight="bold" text-anchor="middle" font-family='"Liberation Sans", sans-serif' fill="#111" stroke="#111" stroke-width="0.25">ERBB2 HETERODIMER</text>
<rect x="92.6" y="597.2" width="46.7" height="10.7" rx="5.3" fill="#8a63d8"/>
<path d="M97.9,597.2 L130.2,597.2 L130.2,607.9 L97.9,607.9 A5.35,5.35 0 0 1 97.9,597.2 Z" fill="#52a4f0"/>
<text x="112.3" y="604.3" font-size="4.4" font-weight="bold" text-anchor="middle" font-family='"Liberation Sans", sans-serif' fill="#eef6ff" stroke="#eef6ff" stroke-width="0.2">TRASTUZUMAB</text>
<text x="134.7" y="602.6" font-size="6" font-weight="bold" text-anchor="middle" font-family='"Liberation Sans", sans-serif' fill="#f4eeff">Y</text>
<text x="134.6" y="606.6" font-size="3.4" font-weight="bold" text-anchor="middle" font-family='"Liberation Sans", sans-serif' fill="#eee6ff">Rx</text>
<rect x="438.8" y="592.2" width="43.8" height="10.4" rx="5.2" fill="#8a63d8"/>
<path d="M444,592.9 L472.5,592.9 L472.5,601.9 L444,601.9 A4.5,4.5 0 0 1 444,592.9 Z" fill="#f2b142"/>
<text x="456.4" y="599.1" font-size="4.45" font-weight="bold" text-anchor="middle" font-family='"Liberation Sans", sans-serif' fill="#fff4c8" stroke="#fff4c8" stroke-width="0.2">PERTUZUMAB</text>
<text x="477.6" y="597.6" font-size="6" font-weight="bold" text-anchor="middle" font-family='"Liberation Sans", sans-serif' fill="#f4eeff">Y</text>
<text x="477.5" y="601.6" font-size="3.4" font-weight="bold" text-anchor="middle" font-family='"Liberation Sans", sans-serif' fill="#eee6ff">Rx</text>
<path d="M124.8,655.6 L127.6,650.3 L144.2,650.3 L146.9,655.6 L144.2,660.9 L127.6,660.9 Z" fill="#8c6fe0"/>
<circle cx="130.8" cy="655.6" r="5.1" fill="#eea12c"/>
<text x="130.8" y="657.2" font-size="4.6" font-weight="bold" text-anchor="middle" font-family='"Liberation Sans", sans-serif' fill="#fff3cf">TKI</text>
<text x="140.5" y="659" font-size="3.6" font-weight="bold" text-anchor="middle" font-family='"Liberation Sans", sans-serif' fill="#efe8ff">Rx</text>
<path d="M464.6,746.6 L466.6,745.2 L467.8,746.4 L469.4,745 L470.6,746.2 L472.6,745.6 L471.6,748.6 L469.6,751.2 L469.2,754.2 L467.6,751.6 L465.4,750.2 Z" fill="#2aa3c2"/>
<text x="473" y="752.4" font-size="8.2" font-family='"Liberation Sans", sans-serif' fill="#2a9fbf" letter-spacing="-0.2">reactome</text>
<text x="473.6" y="757.8" font-size="4.6" font-weight="bold" font-family='"Liberation Sans", sans-serif' fill="#b8204a" stroke="#b8204a" stroke-width="0.2">DISEASE</text>
</svg>
</body></html>
